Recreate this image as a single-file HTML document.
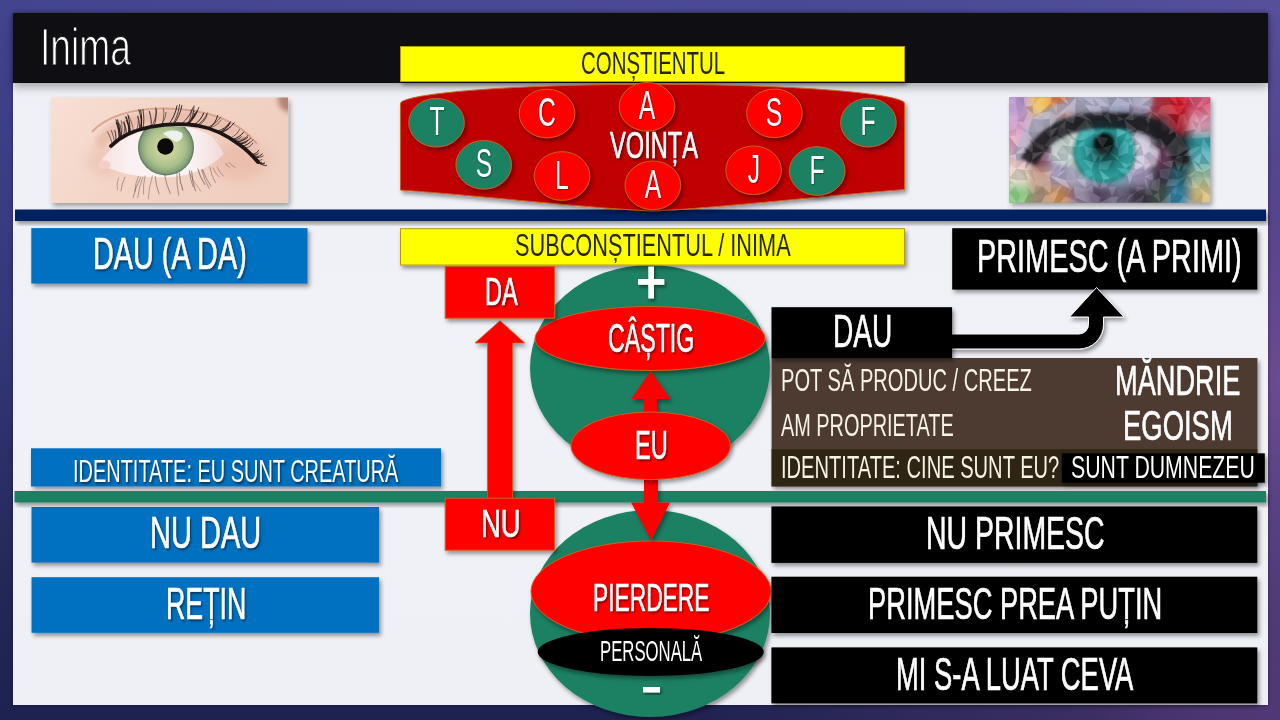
<!DOCTYPE html><html><head><meta charset="utf-8"><style>
html,body{margin:0;padding:0;}
body{width:1280px;height:720px;overflow:hidden;position:relative;font-family:'Liberation Sans',sans-serif;
background:
 radial-gradient(ellipse 300px 420px at 1280px 380px, rgba(110,76,148,0.95), rgba(110,76,148,0) 100%),
 radial-gradient(ellipse 600px 260px at 1280px 720px, rgba(78,54,114,0.9), rgba(78,54,114,0) 100%),
 radial-gradient(ellipse 500px 200px at 1280px 0px, rgba(86,82,158,0.9), rgba(86,82,158,0) 100%),
 radial-gradient(ellipse 700px 120px at 640px 0px, rgba(80,76,150,0.7), rgba(80,76,150,0) 100%),
 linear-gradient(180deg, #42448e 0%, #33387a 45%, #242858 80%, #1e2250 100%);}
.t{position:absolute;white-space:nowrap;transform-origin:0 0;}
.b{position:absolute;}
</style></head><body>
<div class="b" style="left:13px;top:13px;width:1255px;height:692px;background:linear-gradient(180deg,#eef0f6 0%,#f0f2f8 50%,#eef0f6 100%);box-shadow:0 0 4px rgba(0,0,0,0.4);"></div>
<div class="b" style="left:13px;top:13px;width:1255px;height:69.5px;background:#0f0e12;box-shadow:0 4px 9px rgba(0,0,0,0.32);"></div>
<svg style="position:absolute;left:0;top:0" width="1280" height="720" viewBox="0 0 1280 720">
<defs>
<filter id="eds" x="-10%" y="-10%" width="125%" height="130%"><feDropShadow dx="2" dy="3" stdDeviation="2.5" flood-color="#000" flood-opacity="0.35"/></filter>
<linearGradient id="skin" x1="0" y1="0" x2="1" y2="0.3">
<stop offset="0" stop-color="#f7e0d4"/><stop offset="0.5" stop-color="#f3d4c5"/><stop offset="1" stop-color="#f0cfc0"/></linearGradient>
<radialGradient id="iris" cx="0.5" cy="0.5" r="0.5"><stop offset="0" stop-color="#c8c884"/><stop offset="0.35" stop-color="#c6d09a"/><stop offset="0.7" stop-color="#a8bf8c"/><stop offset="0.9" stop-color="#86a27a"/><stop offset="1" stop-color="#5c7658"/></radialGradient>
<linearGradient id="white" x1="0" y1="0" x2="1" y2="0"><stop offset="0" stop-color="#f4e0dc"/><stop offset="0.25" stop-color="#faf2f2"/><stop offset="0.75" stop-color="#faf2f3"/><stop offset="1" stop-color="#f2d8d6"/></linearGradient>
<clipPath id="almond"><path d="M99,164 C106,152 122,137 145,129.5 C165,124 195,125 210,135 C216,140 220,147 224,154 C212,166 195,175 172,177 C145,178.5 118,174 99,164 Z"/></clipPath>
<filter id="bl1" x="-50%" y="-50%" width="200%" height="200%"><feGaussianBlur stdDeviation="2.5"/></filter>
<filter id="bl4" x="-50%" y="-50%" width="200%" height="200%"><feGaussianBlur stdDeviation="6"/></filter>
<filter id="bl05" x="-10%" y="-10%" width="120%" height="120%"><feGaussianBlur stdDeviation="0.5"/></filter>
<clipPath id="photoL"><rect x="50.8" y="97.5" width="237.3" height="105.5"/></clipPath>
</defs>
<rect x="50.8" y="97.5" width="237.3" height="105.5" fill="url(#skin)" filter="url(#eds)"/>
<g clip-path="url(#photoL)">
<ellipse cx="290" cy="100" rx="12" ry="12" fill="#a87868" opacity="0.85" filter="url(#bl1)"/>
<path d="M95,140 C110,118 140,110 170,110 C205,110 235,120 255,145 C240,140 220,128 185,123 C150,120 120,128 100,150 Z" fill="#e6b3a2" opacity="0.7" filter="url(#bl1)"/>
<ellipse cx="240" cy="160" rx="28" ry="20" fill="#e4aa98" opacity="0.45" filter="url(#bl4)"/>
<ellipse cx="105" cy="160" rx="18" ry="16" fill="#e8b6a6" opacity="0.45" filter="url(#bl4)"/>
<path d="M92,132 C105,117 132,108 165,108.5 C205,109 238,120 257,144" fill="none" stroke="#cf907c" stroke-width="2" opacity="0.7" filter="url(#bl05)"/>
<path d="M99,164 C106,152 122,137 145,129.5 C165,124 195,125 210,135 C216,140 220,147 224,154 C212,166 195,175 172,177 C145,178.5 118,174 99,164 Z" fill="url(#white)"/>
<g clip-path="url(#almond)">
<circle cx="166" cy="147.5" r="28" fill="url(#iris)"/>
<circle cx="165.4" cy="146.5" r="8.2" fill="#0c0a0c"/>
<path d="M163,134 C166,130 176,129 182,133 C184,137 181,141 176,142 C172,139 168,137 163,134 Z" fill="#f2f6f6" opacity="0.9"/>
</g>
<path d="M97,159 C100,162 104,166 110,170 C106,172 100,170 97,166 Z" fill="#f0c4ba"/>
<ellipse cx="104" cy="165" rx="6.5" ry="4.5" fill="#f3cfc6"/>
<path d="M111,146 C120,137 135,130 150,127 C165,124 182,123.5 197,125.5 C212,128 228,136 240,145 C247,150 252,155 258,162" fill="none" stroke="#1e1212" stroke-width="3.8" stroke-linecap="round" filter="url(#bl05)"/>

<path d="M188.4,124.4 Q195.7,117.3 198.9,107.3" stroke="#241818" stroke-width="0.73" fill="none" stroke-linecap="round"/>
<path d="M198.4,125.7 Q204.8,121.7 207.2,114.6" stroke="#241818" stroke-width="0.76" fill="none" stroke-linecap="round"/>
<path d="M220.9,132.5 Q227.7,131.0 230.5,126.5" stroke="#241818" stroke-width="0.65" fill="none" stroke-linecap="round"/>
<path d="M121.3,136.4 Q123.2,130.0 121.1,120.6" stroke="#241818" stroke-width="0.52" fill="none" stroke-linecap="round"/>
<path d="M258.9,162.7 Q263.7,164.8 264.4,163.9" stroke="#241818" stroke-width="0.81" fill="none" stroke-linecap="round"/>
<path d="M133.3,130.8 Q133.0,124.6 128.6,115.5" stroke="#241818" stroke-width="0.53" fill="none" stroke-linecap="round"/>
<path d="M139.2,129.2 Q140.5,124.2 137.7,116.2" stroke="#241818" stroke-width="0.73" fill="none" stroke-linecap="round"/>
<path d="M186.3,124.1 Q193.7,118.8 197.1,110.6" stroke="#241818" stroke-width="0.82" fill="none" stroke-linecap="round"/>
<path d="M197.0,125.5 Q204.2,120.8 207.3,113.0" stroke="#241818" stroke-width="0.64" fill="none" stroke-linecap="round"/>
<path d="M259.9,163.8 Q265.2,166.2 266.5,165.6" stroke="#241818" stroke-width="0.85" fill="none" stroke-linecap="round"/>
<path d="M161.7,125.0 Q164.7,118.6 163.6,109.2" stroke="#241818" stroke-width="0.54" fill="none" stroke-linecap="round"/>
<path d="M241.6,146.2 Q249.2,144.6 252.8,140.0" stroke="#241818" stroke-width="0.69" fill="none" stroke-linecap="round"/>
<path d="M257.5,161.0 Q260.0,162.5 258.5,161.1" stroke="#241818" stroke-width="0.60" fill="none" stroke-linecap="round"/>
<path d="M254.5,157.5 Q260.9,158.1 263.2,155.8" stroke="#241818" stroke-width="0.70" fill="none" stroke-linecap="round"/>
<path d="M118.9,138.1 Q119.8,131.7 116.6,122.3" stroke="#241818" stroke-width="0.63" fill="none" stroke-linecap="round"/>
<path d="M120.7,136.7 Q120.3,129.7 116.0,119.7" stroke="#241818" stroke-width="0.88" fill="none" stroke-linecap="round"/>
<path d="M126.2,134.1 Q126.7,129.7 123.1,122.3" stroke="#241818" stroke-width="0.53" fill="none" stroke-linecap="round"/>
<path d="M244.5,148.4 Q250.7,147.3 252.8,143.2" stroke="#241818" stroke-width="0.72" fill="none" stroke-linecap="round"/>
<path d="M139.3,129.1 Q142.3,123.8 141.2,115.6" stroke="#241818" stroke-width="0.82" fill="none" stroke-linecap="round"/>
<path d="M126.0,134.2 Q126.9,129.3 123.8,121.4" stroke="#241818" stroke-width="0.63" fill="none" stroke-linecap="round"/>
<path d="M258.3,161.9 Q261.8,163.6 261.4,162.2" stroke="#241818" stroke-width="0.94" fill="none" stroke-linecap="round"/>
<path d="M142.9,128.4 Q144.9,120.4 142.9,109.4" stroke="#241818" stroke-width="0.82" fill="none" stroke-linecap="round"/>
<path d="M123.1,135.6 Q125.7,130.8 124.3,123.0" stroke="#241818" stroke-width="0.63" fill="none" stroke-linecap="round"/>
<path d="M242.2,146.6 Q248.0,145.9 249.7,142.3" stroke="#241818" stroke-width="0.54" fill="none" stroke-linecap="round"/>
<path d="M121.2,136.4 Q122.4,131.7 119.5,123.9" stroke="#241818" stroke-width="0.80" fill="none" stroke-linecap="round"/>
<path d="M172.8,124.0 Q178.3,115.8 179.7,104.5" stroke="#241818" stroke-width="0.74" fill="none" stroke-linecap="round"/>
<path d="M210.4,127.7 Q217.7,125.4 221.0,120.1" stroke="#241818" stroke-width="0.58" fill="none" stroke-linecap="round"/>
<path d="M254.3,157.3 Q258.2,158.8 258.2,157.3" stroke="#241818" stroke-width="0.59" fill="none" stroke-linecap="round"/>
<path d="M238.5,143.9 Q244.8,144.2 247.2,141.4" stroke="#241818" stroke-width="0.98" fill="none" stroke-linecap="round"/>
<path d="M252.1,155.1 Q257.1,156.1 258.0,154.1" stroke="#241818" stroke-width="0.55" fill="none" stroke-linecap="round"/>
<path d="M115.2,141.8 Q117.0,137.6 114.8,130.5" stroke="#241818" stroke-width="0.85" fill="none" stroke-linecap="round"/>
<path d="M151.3,126.8 Q156.0,119.8 156.7,109.9" stroke="#241818" stroke-width="0.65" fill="none" stroke-linecap="round"/>
<path d="M136.6,129.7 Q139.2,124.7 137.9,116.7" stroke="#241818" stroke-width="0.61" fill="none" stroke-linecap="round"/>
<path d="M207.7,127.3 Q216.1,123.8 220.6,117.2" stroke="#241818" stroke-width="0.64" fill="none" stroke-linecap="round"/>
<path d="M255.0,158.0 Q258.0,159.3 256.9,157.5" stroke="#241818" stroke-width="0.63" fill="none" stroke-linecap="round"/>
<path d="M187.2,124.2 Q191.3,118.6 191.3,109.9" stroke="#241818" stroke-width="0.68" fill="none" stroke-linecap="round"/>
<path d="M210.0,127.7 Q215.8,123.1 217.6,115.5" stroke="#241818" stroke-width="0.95" fill="none" stroke-linecap="round"/>
<path d="M258.8,162.6 Q263.7,164.2 264.7,162.9" stroke="#241818" stroke-width="0.79" fill="none" stroke-linecap="round"/>
<path d="M130.3,132.2 Q130.3,128.0 126.4,120.7" stroke="#241818" stroke-width="0.96" fill="none" stroke-linecap="round"/>
<path d="M232.9,139.7 Q239.2,139.8 241.4,136.8" stroke="#241818" stroke-width="0.82" fill="none" stroke-linecap="round"/>
<path d="M193.8,125.1 Q200.8,120.6 203.7,113.2" stroke="#241818" stroke-width="1.00" fill="none" stroke-linecap="round"/>
<path d="M119.1,137.9 Q119.7,131.6 116.3,122.4" stroke="#241818" stroke-width="0.95" fill="none" stroke-linecap="round"/>
<path d="M238.1,143.6 Q246.3,142.5 250.4,138.5" stroke="#241818" stroke-width="0.96" fill="none" stroke-linecap="round"/>
<path d="M168.8,124.3 Q174.9,116.5 177.1,105.8" stroke="#241818" stroke-width="0.94" fill="none" stroke-linecap="round"/>
<path d="M182.1,123.5 Q189.7,116.8 193.4,107.2" stroke="#241818" stroke-width="0.79" fill="none" stroke-linecap="round"/>
<path d="M220.0,132.0 Q227.2,128.3 230.5,121.6" stroke="#241818" stroke-width="0.80" fill="none" stroke-linecap="round"/>
<path d="M119.7,137.3 Q120.6,130.1 117.5,119.8" stroke="#241818" stroke-width="0.94" fill="none" stroke-linecap="round"/>
<path d="M236.9,142.6 Q244.4,140.5 247.9,135.4" stroke="#241818" stroke-width="0.79" fill="none" stroke-linecap="round"/>
<path d="M186.3,124.1 Q192.7,120.0 195.2,113.0" stroke="#241818" stroke-width="0.88" fill="none" stroke-linecap="round"/>
<path d="M114.2,142.8 Q114.7,138.1 111.2,130.3" stroke="#241818" stroke-width="0.62" fill="none" stroke-linecap="round"/>
<path d="M232.6,139.4 Q240.1,137.3 243.6,132.2" stroke="#241818" stroke-width="0.96" fill="none" stroke-linecap="round"/>
<path d="M151.0,126.8 Q152.2,120.5 149.3,111.3" stroke="#241818" stroke-width="0.84" fill="none" stroke-linecap="round"/>
<path d="M141.5,128.7 Q142.2,120.6 138.9,109.6" stroke="#241818" stroke-width="0.83" fill="none" stroke-linecap="round"/>
<path d="M186.5,124.1 Q193.7,119.5 196.9,112.0" stroke="#241818" stroke-width="0.83" fill="none" stroke-linecap="round"/>
<path d="M140.7,128.9 Q142.7,121.1 140.7,110.3" stroke="#241818" stroke-width="0.96" fill="none" stroke-linecap="round"/>
<path d="M251.9,154.9 Q257.4,155.4 258.8,152.9" stroke="#241818" stroke-width="0.66" fill="none" stroke-linecap="round"/>
<path d="M129.5,132.6 Q130.7,125.2 127.9,114.9" stroke="#241818" stroke-width="0.92" fill="none" stroke-linecap="round"/>
<path d="M234.4,140.8 Q241.4,140.7 244.3,137.5" stroke="#241818" stroke-width="0.58" fill="none" stroke-linecap="round"/>
<path d="M188.1,124.3 Q193.0,118.9 194.0,110.4" stroke="#241818" stroke-width="0.71" fill="none" stroke-linecap="round"/>
<path d="M220.1,132.1 Q227.0,129.3 229.8,123.5" stroke="#241818" stroke-width="0.92" fill="none" stroke-linecap="round"/>
<path d="M258.9,162.7 Q261.7,164.2 260.4,162.6" stroke="#241818" stroke-width="0.52" fill="none" stroke-linecap="round"/>
<path d="M251.3,154.3 Q257.0,153.9 258.7,150.4" stroke="#241818" stroke-width="0.79" fill="none" stroke-linecap="round"/>
<path d="M160.6,125.2 Q165.3,120.3 166.1,112.3" stroke="#241818" stroke-width="0.57" fill="none" stroke-linecap="round"/>
<path d="M188.9,124.4 Q193.5,116.6 194.1,105.8" stroke="#241818" stroke-width="0.62" fill="none" stroke-linecap="round"/>
<path d="M130.4,132.2 Q129.8,125.9 125.3,116.6" stroke="#241818" stroke-width="0.72" fill="none" stroke-linecap="round"/>
<path d="M221.0,132.5 Q229.5,129.2 234.1,122.9" stroke="#241818" stroke-width="0.98" fill="none" stroke-linecap="round"/>
<path d="M230.6,137.9 Q237.1,135.1 239.6,129.2" stroke="#241818" stroke-width="0.59" fill="none" stroke-linecap="round"/>
<path d="M112.2,144.8 Q111.8,139.8 107.5,131.7" stroke="#241818" stroke-width="0.59" fill="none" stroke-linecap="round"/>
<path d="M154.0,126.3 Q156.9,118.6 155.8,107.8" stroke="#241818" stroke-width="0.76" fill="none" stroke-linecap="round"/>
<path d="M218.0,131.0 Q225.6,128.6 229.2,123.2" stroke="#241818" stroke-width="0.90" fill="none" stroke-linecap="round"/>
<path d="M254.1,157.1 Q260.2,156.9 262.2,153.8" stroke="#241818" stroke-width="0.86" fill="none" stroke-linecap="round"/>
<path d="M128.4,133.1 Q129.4,126.6 126.4,117.1" stroke="#241818" stroke-width="0.95" fill="none" stroke-linecap="round"/>
<path d="M173.9,124.0 Q179.9,116.2 181.9,105.5" stroke="#241818" stroke-width="0.90" fill="none" stroke-linecap="round"/>
<path d="M256.7,160.0 Q261.4,161.1 262.2,159.3" stroke="#241818" stroke-width="0.60" fill="none" stroke-linecap="round"/>
<path d="M236.0,142.0 Q243.9,141.2 247.8,137.4" stroke="#241818" stroke-width="0.86" fill="none" stroke-linecap="round"/>
<path d="M140.6,177.6 Q135.4,187.5 133.1,197.4" stroke="#3a2828" stroke-width="0.61" opacity="0.7" fill="none" stroke-linecap="round"/>
<path d="M209.9,167.1 Q211.1,174.9 215.3,182.6" stroke="#3a2828" stroke-width="0.54" opacity="0.7" fill="none" stroke-linecap="round"/>
<path d="M124.9,177.3 Q121.5,184.0 121.0,190.8" stroke="#3a2828" stroke-width="0.59" opacity="0.7" fill="none" stroke-linecap="round"/>
<path d="M118.4,178.1 Q116.4,184.0 117.4,189.8" stroke="#3a2828" stroke-width="0.47" opacity="0.7" fill="none" stroke-linecap="round"/>
<path d="M155.2,176.3 Q155.7,185.1 159.1,193.9" stroke="#3a2828" stroke-width="0.61" opacity="0.7" fill="none" stroke-linecap="round"/>
<path d="M201.8,169.8 Q204.0,179.1 209.1,188.4" stroke="#3a2828" stroke-width="0.60" opacity="0.7" fill="none" stroke-linecap="round"/>
<path d="M228.9,162.3 Q230.5,164.9 235.2,167.5" stroke="#3a2828" stroke-width="0.52" opacity="0.7" fill="none" stroke-linecap="round"/>
<path d="M202.5,169.3 Q205.2,177.7 211.0,186.2" stroke="#3a2828" stroke-width="0.62" opacity="0.7" fill="none" stroke-linecap="round"/>
<path d="M152.4,175.7 Q148.8,187.3 148.3,198.9" stroke="#3a2828" stroke-width="0.48" opacity="0.7" fill="none" stroke-linecap="round"/>
<path d="M217.1,166.9 Q218.8,171.5 223.6,176.2" stroke="#3a2828" stroke-width="0.48" opacity="0.7" fill="none" stroke-linecap="round"/>
<path d="M179.3,172.9 Q179.6,181.6 182.9,190.2" stroke="#3a2828" stroke-width="0.79" opacity="0.7" fill="none" stroke-linecap="round"/>
<path d="M176.9,173.0 Q176.3,184.1 178.7,195.2" stroke="#3a2828" stroke-width="0.60" opacity="0.7" fill="none" stroke-linecap="round"/>
<path d="M197.9,169.0 Q199.8,176.7 204.7,184.5" stroke="#3a2828" stroke-width="0.78" opacity="0.7" fill="none" stroke-linecap="round"/>
<path d="M225.8,163.4 Q225.9,165.3 229.1,167.2" stroke="#3a2828" stroke-width="0.57" opacity="0.7" fill="none" stroke-linecap="round"/>
<path d="M212.9,167.7 Q214.4,172.2 219.0,176.8" stroke="#3a2828" stroke-width="0.48" opacity="0.7" fill="none" stroke-linecap="round"/>
<path d="M189.1,172.2 Q193.4,181.7 200.6,191.1" stroke="#3a2828" stroke-width="0.41" opacity="0.7" fill="none" stroke-linecap="round"/>
<path d="M138.3,176.4 Q135.1,183.8 134.9,191.2" stroke="#3a2828" stroke-width="0.54" opacity="0.7" fill="none" stroke-linecap="round"/>
<path d="M189.4,170.6 Q189.8,178.7 193.2,186.9" stroke="#3a2828" stroke-width="0.60" opacity="0.7" fill="none" stroke-linecap="round"/>
<path d="M145.1,175.9 Q142.8,184.9 143.6,194.0" stroke="#3a2828" stroke-width="0.55" opacity="0.7" fill="none" stroke-linecap="round"/>
<path d="M164.6,174.8 Q166.0,184.1 170.3,193.5" stroke="#3a2828" stroke-width="0.65" opacity="0.7" fill="none" stroke-linecap="round"/>
<path d="M191.6,171.0 Q192.0,180.9 195.4,190.8" stroke="#3a2828" stroke-width="0.74" opacity="0.7" fill="none" stroke-linecap="round"/>
<path d="M142.9,177.1 Q138.8,187.4 137.7,197.8" stroke="#3a2828" stroke-width="0.53" opacity="0.7" fill="none" stroke-linecap="round"/>
</g></svg>
<svg style="position:absolute;left:0;top:0" width="1280" height="720" viewBox="0 0 1280 720">
<defs>
<filter id="eds2" x="-10%" y="-10%" width="125%" height="130%"><feDropShadow dx="2" dy="3" stdDeviation="2.5" flood-color="#000" flood-opacity="0.35"/></filter>
<clipPath id="photoR"><rect x="1009.3" y="97.2" width="201.0" height="105.60000000000001"/></clipPath>
<filter id="bl2" x="-20%" y="-20%" width="140%" height="140%"><feGaussianBlur stdDeviation="4.5"/></filter>
<filter id="bl3" x="-20%" y="-20%" width="140%" height="140%"><feGaussianBlur stdDeviation="1.8"/></filter>
<radialGradient id="irisR" cx="0.5" cy="0.5" r="0.5"><stop offset="0" stop-color="#0e2e30"/><stop offset="0.3" stop-color="#186060"/><stop offset="0.6" stop-color="#2a9a9c"/><stop offset="0.85" stop-color="#38b4b0"/><stop offset="1" stop-color="#2a8a88"/></radialGradient>
</defs>
<rect x="1009.3" y="97.2" width="201.0" height="105.60000000000001" fill="#908898" filter="url(#eds2)"/>
<g clip-path="url(#photoR)">
<g filter="url(#bl2)"><rect x="1001.3" y="89.2" width="28.6" height="26.1" fill="#b898d0"/><rect x="1029.4" y="89.2" width="20.6" height="26.1" fill="#eec050"/><rect x="1049.5" y="89.2" width="20.6" height="26.1" fill="#e08050"/><rect x="1069.6" y="89.2" width="20.6" height="26.1" fill="#b0a8c0"/><rect x="1089.7" y="89.2" width="20.6" height="26.1" fill="#a8a8c4"/><rect x="1109.8" y="89.2" width="20.6" height="26.1" fill="#9098b8"/><rect x="1129.9" y="89.2" width="20.6" height="26.1" fill="#8a80a0"/><rect x="1150.0" y="89.2" width="20.6" height="26.1" fill="#b83040"/><rect x="1170.1" y="89.2" width="20.6" height="26.1" fill="#d01828"/><rect x="1190.2" y="89.2" width="28.6" height="26.1" fill="#e06080"/><rect x="1001.3" y="114.8" width="28.6" height="18.1" fill="#d0a0cc"/><rect x="1029.4" y="114.8" width="20.6" height="18.1" fill="#c0b4c0"/><rect x="1049.5" y="114.8" width="20.6" height="18.1" fill="#808088"/><rect x="1069.6" y="114.8" width="20.6" height="18.1" fill="#383840"/><rect x="1089.7" y="114.8" width="20.6" height="18.1" fill="#283034"/><rect x="1109.8" y="114.8" width="20.6" height="18.1" fill="#383c44"/><rect x="1129.9" y="114.8" width="20.6" height="18.1" fill="#484850"/><rect x="1150.0" y="114.8" width="20.6" height="18.1" fill="#482830"/><rect x="1170.1" y="114.8" width="20.6" height="18.1" fill="#a81828"/><rect x="1190.2" y="114.8" width="28.6" height="18.1" fill="#e0a0b8"/><rect x="1001.3" y="132.4" width="28.6" height="18.1" fill="#eaa8c4"/><rect x="1029.4" y="132.4" width="20.6" height="18.1" fill="#907078"/><rect x="1049.5" y="132.4" width="20.6" height="18.1" fill="#504050"/><rect x="1069.6" y="132.4" width="20.6" height="18.1" fill="#c8d4d0"/><rect x="1089.7" y="132.4" width="20.6" height="18.1" fill="#1c5050"/><rect x="1109.8" y="132.4" width="20.6" height="18.1" fill="#206060"/><rect x="1129.9" y="132.4" width="20.6" height="18.1" fill="#b8b8c8"/><rect x="1150.0" y="132.4" width="20.6" height="18.1" fill="#302830"/><rect x="1170.1" y="132.4" width="20.6" height="18.1" fill="#202428"/><rect x="1190.2" y="132.4" width="28.6" height="18.1" fill="#30a0a8"/><rect x="1001.3" y="150.0" width="28.6" height="18.1" fill="#eec4cc"/><rect x="1029.4" y="150.0" width="20.6" height="18.1" fill="#7a4a58"/><rect x="1049.5" y="150.0" width="20.6" height="18.1" fill="#a898c0"/><rect x="1069.6" y="150.0" width="20.6" height="18.1" fill="#c0d8d0"/><rect x="1089.7" y="150.0" width="20.6" height="18.1" fill="#30a8a8"/><rect x="1109.8" y="150.0" width="20.6" height="18.1" fill="#30b0b0"/><rect x="1129.9" y="150.0" width="20.6" height="18.1" fill="#d0c8e0"/><rect x="1150.0" y="150.0" width="20.6" height="18.1" fill="#704060"/><rect x="1170.1" y="150.0" width="20.6" height="18.1" fill="#183838"/><rect x="1190.2" y="150.0" width="28.6" height="18.1" fill="#60b8c0"/><rect x="1001.3" y="167.6" width="28.6" height="18.1" fill="#e4dcc8"/><rect x="1029.4" y="167.6" width="20.6" height="18.1" fill="#c89888"/><rect x="1049.5" y="167.6" width="20.6" height="18.1" fill="#b0a8c8"/><rect x="1069.6" y="167.6" width="20.6" height="18.1" fill="#b4b4cc"/><rect x="1089.7" y="167.6" width="20.6" height="18.1" fill="#a8a8c8"/><rect x="1109.8" y="167.6" width="20.6" height="18.1" fill="#80a8c0"/><rect x="1129.9" y="167.6" width="20.6" height="18.1" fill="#a898c0"/><rect x="1150.0" y="167.6" width="20.6" height="18.1" fill="#403848"/><rect x="1170.1" y="167.6" width="20.6" height="18.1" fill="#205868"/><rect x="1190.2" y="167.6" width="28.6" height="18.1" fill="#a0c0a0"/><rect x="1001.3" y="185.2" width="28.6" height="26.1" fill="#88c880"/><rect x="1029.4" y="185.2" width="20.6" height="26.1" fill="#b09880"/><rect x="1049.5" y="185.2" width="20.6" height="26.1" fill="#d09058"/><rect x="1069.6" y="185.2" width="20.6" height="26.1" fill="#8a7c98"/><rect x="1089.7" y="185.2" width="20.6" height="26.1" fill="#584868"/><rect x="1109.8" y="185.2" width="20.6" height="26.1" fill="#706880"/><rect x="1129.9" y="185.2" width="20.6" height="26.1" fill="#403848"/><rect x="1150.0" y="185.2" width="20.6" height="26.1" fill="#405048"/><rect x="1170.1" y="185.2" width="20.6" height="26.1" fill="#3088a8"/><rect x="1190.2" y="185.2" width="28.6" height="26.1" fill="#d8c080"/></g>
<g filter="url(#bl3)">
<path d="M1017,160 C1027,130 1048,110 1078,103 C1105,98 1130,99 1152,103" fill="none" stroke="#b0b0c8" stroke-width="13" opacity="0.8"/>
<path d="M1052,140 C1060,136 1070,134 1078,134 L1078,168 C1068,168 1058,165 1050,160 Z" fill="#ccdcd6" opacity="0.8"/>
<path d="M1132,136 C1142,137 1152,142 1160,150 L1156,166 C1148,168 1140,169 1132,170 Z" fill="#d4cce2" opacity="0.8"/>
<circle cx="1104.5" cy="151.5" r="32" fill="url(#irisR)"/>
<circle cx="1104" cy="143" r="11" fill="#0c1212"/>
<path d="M1028,162 C1038,141 1058,128 1080,123 C1105,118 1140,120 1162,132 C1174,140 1180,150 1182,165" fill="none" stroke="#1c1c24" stroke-width="17" opacity="0.88"/>
</g>
<polygon points="1009.3,97.2 1016.6,97.2 1015.6,103.1" fill="#ffffff" opacity="0.05"/><polygon points="1009.3,97.2 1015.6,103.1 1009.3,104.1" fill="#ffffff" opacity="0.16"/><polygon points="1016.6,97.2 1024.0,97.2 1024.9,107.1" fill="#000000" opacity="0.12"/><polygon points="1016.6,97.2 1024.9,107.1 1015.6,103.1" fill="#000000" opacity="0.07"/><polygon points="1024.0,97.2 1035.3,97.2 1032.6,105.8" fill="#ffffff" opacity="0.09"/><polygon points="1024.0,97.2 1032.6,105.8 1024.9,107.1" fill="#ffffff" opacity="0.15"/><polygon points="1035.3,97.2 1040.3,97.2 1032.6,105.8" fill="#000000" opacity="0.04"/><polygon points="1040.3,97.2 1043.6,104.6 1032.6,105.8" fill="#ffffff" opacity="0.13"/><polygon points="1040.3,97.2 1051.4,97.2 1043.6,104.6" fill="#ffffff" opacity="0.11"/><polygon points="1051.4,97.2 1051.5,102.8 1043.6,104.6" fill="#ffffff" opacity="0.09"/><polygon points="1051.4,97.2 1058.8,97.2 1051.5,102.8" fill="#000000" opacity="0.14"/><polygon points="1058.8,97.2 1057.0,103.7 1051.5,102.8" fill="#000000" opacity="0.07"/><polygon points="1058.8,97.2 1065.3,97.2 1069.0,104.9" fill="#ffffff" opacity="0.10"/><polygon points="1058.8,97.2 1069.0,104.9 1057.0,103.7" fill="#000000" opacity="0.15"/><polygon points="1065.3,97.2 1076.3,97.2 1069.0,104.9" fill="#000000" opacity="0.13"/><polygon points="1076.3,97.2 1075.2,105.8 1069.0,104.9" fill="#ffffff" opacity="0.11"/><polygon points="1076.3,97.2 1082.0,97.2 1084.4,104.2" fill="#000000" opacity="0.07"/><polygon points="1076.3,97.2 1084.4,104.2 1075.2,105.8" fill="#000000" opacity="0.12"/><polygon points="1082.0,97.2 1092.7,97.2 1094.8,106.5" fill="#ffffff" opacity="0.07"/><polygon points="1082.0,97.2 1094.8,106.5 1084.4,104.2" fill="#000000" opacity="0.12"/><polygon points="1092.7,97.2 1098.9,97.2 1099.9,105.7" fill="#ffffff" opacity="0.10"/><polygon points="1092.7,97.2 1099.9,105.7 1094.8,106.5" fill="#000000" opacity="0.09"/><polygon points="1098.9,97.2 1107.4,97.2 1109.9,107.5" fill="#000000" opacity="0.04"/><polygon points="1098.9,97.2 1109.9,107.5 1099.9,105.7" fill="#ffffff" opacity="0.10"/><polygon points="1107.4,97.2 1117.7,97.2 1109.9,107.5" fill="#000000" opacity="0.15"/><polygon points="1117.7,97.2 1119.5,104.1 1109.9,107.5" fill="#ffffff" opacity="0.07"/><polygon points="1117.7,97.2 1128.5,97.2 1129.4,103.2" fill="#000000" opacity="0.12"/><polygon points="1117.7,97.2 1129.4,103.2 1119.5,104.1" fill="#ffffff" opacity="0.04"/><polygon points="1128.5,97.2 1132.7,97.2 1134.4,106.8" fill="#000000" opacity="0.09"/><polygon points="1128.5,97.2 1134.4,106.8 1129.4,103.2" fill="#ffffff" opacity="0.12"/><polygon points="1132.7,97.2 1141.7,97.2 1134.4,106.8" fill="#ffffff" opacity="0.04"/><polygon points="1141.7,97.2 1141.3,105.3 1134.4,106.8" fill="#ffffff" opacity="0.09"/><polygon points="1141.7,97.2 1152.4,97.2 1141.3,105.3" fill="#ffffff" opacity="0.14"/><polygon points="1152.4,97.2 1149.0,106.3 1141.3,105.3" fill="#000000" opacity="0.10"/><polygon points="1152.4,97.2 1162.7,97.2 1161.6,105.7" fill="#000000" opacity="0.08"/><polygon points="1152.4,97.2 1161.6,105.7 1149.0,106.3" fill="#000000" opacity="0.07"/><polygon points="1162.7,97.2 1168.9,97.2 1170.6,104.3" fill="#000000" opacity="0.08"/><polygon points="1162.7,97.2 1170.6,104.3 1161.6,105.7" fill="#000000" opacity="0.10"/><polygon points="1168.9,97.2 1176.2,97.2 1177.9,105.9" fill="#ffffff" opacity="0.09"/><polygon points="1168.9,97.2 1177.9,105.9 1170.6,104.3" fill="#000000" opacity="0.15"/><polygon points="1176.2,97.2 1188.0,97.2 1185.6,105.1" fill="#ffffff" opacity="0.07"/><polygon points="1176.2,97.2 1185.6,105.1 1177.9,105.9" fill="#000000" opacity="0.06"/><polygon points="1188.0,97.2 1190.9,97.2 1195.5,107.9" fill="#ffffff" opacity="0.09"/><polygon points="1188.0,97.2 1195.5,107.9 1185.6,105.1" fill="#000000" opacity="0.15"/><polygon points="1190.9,97.2 1204.0,97.2 1195.5,107.9" fill="#000000" opacity="0.15"/><polygon points="1204.0,97.2 1201.8,106.3 1195.5,107.9" fill="#ffffff" opacity="0.06"/><polygon points="1204.0,97.2 1210.3,97.2 1201.8,106.3" fill="#000000" opacity="0.04"/><polygon points="1210.3,97.2 1210.3,102.8 1201.8,106.3" fill="#000000" opacity="0.09"/><polygon points="1009.3,104.1 1015.6,103.1 1018.5,116.2" fill="#ffffff" opacity="0.06"/><polygon points="1009.3,104.1 1018.5,116.2 1009.3,114.6" fill="#ffffff" opacity="0.07"/><polygon points="1015.6,103.1 1024.9,107.1 1027.9,112.2" fill="#000000" opacity="0.05"/><polygon points="1015.6,103.1 1027.9,112.2 1018.5,116.2" fill="#000000" opacity="0.06"/><polygon points="1024.9,107.1 1032.6,105.8 1033.8,114.4" fill="#000000" opacity="0.14"/><polygon points="1024.9,107.1 1033.8,114.4 1027.9,112.2" fill="#ffffff" opacity="0.05"/><polygon points="1032.6,105.8 1043.6,104.6 1040.0,113.2" fill="#ffffff" opacity="0.15"/><polygon points="1032.6,105.8 1040.0,113.2 1033.8,114.4" fill="#ffffff" opacity="0.08"/><polygon points="1043.6,104.6 1051.5,102.8 1040.0,113.2" fill="#ffffff" opacity="0.09"/><polygon points="1051.5,102.8 1049.2,111.3 1040.0,113.2" fill="#000000" opacity="0.13"/><polygon points="1051.5,102.8 1057.0,103.7 1057.0,115.0" fill="#ffffff" opacity="0.05"/><polygon points="1051.5,102.8 1057.0,115.0 1049.2,111.3" fill="#000000" opacity="0.07"/><polygon points="1057.0,103.7 1069.0,104.9 1057.0,115.0" fill="#000000" opacity="0.08"/><polygon points="1069.0,104.9 1065.8,112.0 1057.0,115.0" fill="#ffffff" opacity="0.15"/><polygon points="1069.0,104.9 1075.2,105.8 1065.8,112.0" fill="#ffffff" opacity="0.13"/><polygon points="1075.2,105.8 1075.7,115.6 1065.8,112.0" fill="#ffffff" opacity="0.07"/><polygon points="1075.2,105.8 1084.4,104.2 1082.2,113.2" fill="#000000" opacity="0.15"/><polygon points="1075.2,105.8 1082.2,113.2 1075.7,115.6" fill="#000000" opacity="0.15"/><polygon points="1084.4,104.2 1094.8,106.5 1093.3,115.6" fill="#ffffff" opacity="0.10"/><polygon points="1084.4,104.2 1093.3,115.6 1082.2,113.2" fill="#000000" opacity="0.15"/><polygon points="1094.8,106.5 1099.9,105.7 1103.3,115.5" fill="#ffffff" opacity="0.09"/><polygon points="1094.8,106.5 1103.3,115.5 1093.3,115.6" fill="#ffffff" opacity="0.15"/><polygon points="1099.9,105.7 1109.9,107.5 1108.5,113.0" fill="#000000" opacity="0.13"/><polygon points="1099.9,105.7 1108.5,113.0 1103.3,115.5" fill="#000000" opacity="0.13"/><polygon points="1109.9,107.5 1119.5,104.1 1108.5,113.0" fill="#ffffff" opacity="0.08"/><polygon points="1119.5,104.1 1117.3,115.6 1108.5,113.0" fill="#ffffff" opacity="0.13"/><polygon points="1119.5,104.1 1129.4,103.2 1129.2,111.5" fill="#ffffff" opacity="0.13"/><polygon points="1119.5,104.1 1129.2,111.5 1117.3,115.6" fill="#ffffff" opacity="0.05"/><polygon points="1129.4,103.2 1134.4,106.8 1133.0,111.9" fill="#000000" opacity="0.08"/><polygon points="1129.4,103.2 1133.0,111.9 1129.2,111.5" fill="#000000" opacity="0.15"/><polygon points="1134.4,106.8 1141.3,105.3 1133.0,111.9" fill="#ffffff" opacity="0.05"/><polygon points="1141.3,105.3 1141.7,113.4 1133.0,111.9" fill="#ffffff" opacity="0.10"/><polygon points="1141.3,105.3 1149.0,106.3 1141.7,113.4" fill="#ffffff" opacity="0.07"/><polygon points="1149.0,106.3 1152.2,112.1 1141.7,113.4" fill="#ffffff" opacity="0.11"/><polygon points="1149.0,106.3 1161.6,105.7 1152.2,112.1" fill="#000000" opacity="0.14"/><polygon points="1161.6,105.7 1157.1,113.0 1152.2,112.1" fill="#000000" opacity="0.05"/><polygon points="1161.6,105.7 1170.6,104.3 1157.1,113.0" fill="#ffffff" opacity="0.11"/><polygon points="1170.6,104.3 1167.7,113.8 1157.1,113.0" fill="#ffffff" opacity="0.13"/><polygon points="1170.6,104.3 1177.9,105.9 1179.5,114.5" fill="#ffffff" opacity="0.07"/><polygon points="1170.6,104.3 1179.5,114.5 1167.7,113.8" fill="#ffffff" opacity="0.15"/><polygon points="1177.9,105.9 1185.6,105.1 1179.5,114.5" fill="#ffffff" opacity="0.09"/><polygon points="1185.6,105.1 1185.3,114.1 1179.5,114.5" fill="#000000" opacity="0.10"/><polygon points="1185.6,105.1 1195.5,107.9 1194.6,110.9" fill="#000000" opacity="0.12"/><polygon points="1185.6,105.1 1194.6,110.9 1185.3,114.1" fill="#000000" opacity="0.05"/><polygon points="1195.5,107.9 1201.8,106.3 1204.3,115.0" fill="#000000" opacity="0.14"/><polygon points="1195.5,107.9 1204.3,115.0 1194.6,110.9" fill="#000000" opacity="0.04"/><polygon points="1201.8,106.3 1210.3,102.8 1210.3,115.6" fill="#ffffff" opacity="0.06"/><polygon points="1201.8,106.3 1210.3,115.6 1204.3,115.0" fill="#000000" opacity="0.11"/><polygon points="1009.3,114.6 1018.5,116.2 1009.3,123.3" fill="#ffffff" opacity="0.14"/><polygon points="1018.5,116.2 1017.0,121.0 1009.3,123.3" fill="#ffffff" opacity="0.07"/><polygon points="1018.5,116.2 1027.9,112.2 1017.0,121.0" fill="#000000" opacity="0.05"/><polygon points="1027.9,112.2 1023.7,122.3 1017.0,121.0" fill="#000000" opacity="0.11"/><polygon points="1027.9,112.2 1033.8,114.4 1031.9,119.1" fill="#ffffff" opacity="0.06"/><polygon points="1027.9,112.2 1031.9,119.1 1023.7,122.3" fill="#ffffff" opacity="0.07"/><polygon points="1033.8,114.4 1040.0,113.2 1031.9,119.1" fill="#000000" opacity="0.06"/><polygon points="1040.0,113.2 1041.1,119.6 1031.9,119.1" fill="#ffffff" opacity="0.08"/><polygon points="1040.0,113.2 1049.2,111.3 1041.1,119.6" fill="#ffffff" opacity="0.08"/><polygon points="1049.2,111.3 1050.2,119.0 1041.1,119.6" fill="#ffffff" opacity="0.14"/><polygon points="1049.2,111.3 1057.0,115.0 1050.2,119.0" fill="#ffffff" opacity="0.05"/><polygon points="1057.0,115.0 1056.6,119.6 1050.2,119.0" fill="#ffffff" opacity="0.11"/><polygon points="1057.0,115.0 1065.8,112.0 1056.6,119.6" fill="#ffffff" opacity="0.06"/><polygon points="1065.8,112.0 1065.6,120.8 1056.6,119.6" fill="#000000" opacity="0.09"/><polygon points="1065.8,112.0 1075.7,115.6 1073.5,123.7" fill="#ffffff" opacity="0.15"/><polygon points="1065.8,112.0 1073.5,123.7 1065.6,120.8" fill="#ffffff" opacity="0.11"/><polygon points="1075.7,115.6 1082.2,113.2 1085.3,119.6" fill="#ffffff" opacity="0.14"/><polygon points="1075.7,115.6 1085.3,119.6 1073.5,123.7" fill="#000000" opacity="0.08"/><polygon points="1082.2,113.2 1093.3,115.6 1091.6,120.7" fill="#000000" opacity="0.06"/><polygon points="1082.2,113.2 1091.6,120.7 1085.3,119.6" fill="#ffffff" opacity="0.15"/><polygon points="1093.3,115.6 1103.3,115.5 1100.6,119.4" fill="#000000" opacity="0.09"/><polygon points="1093.3,115.6 1100.6,119.4 1091.6,120.7" fill="#000000" opacity="0.10"/><polygon points="1103.3,115.5 1108.5,113.0 1111.8,124.4" fill="#ffffff" opacity="0.11"/><polygon points="1103.3,115.5 1111.8,124.4 1100.6,119.4" fill="#000000" opacity="0.15"/><polygon points="1108.5,113.0 1117.3,115.6 1118.0,121.5" fill="#000000" opacity="0.08"/><polygon points="1108.5,113.0 1118.0,121.5 1111.8,124.4" fill="#000000" opacity="0.06"/><polygon points="1117.3,115.6 1129.2,111.5 1124.1,119.3" fill="#000000" opacity="0.15"/><polygon points="1117.3,115.6 1124.1,119.3 1118.0,121.5" fill="#ffffff" opacity="0.10"/><polygon points="1129.2,111.5 1133.0,111.9 1124.1,119.3" fill="#000000" opacity="0.06"/><polygon points="1133.0,111.9 1134.0,120.2 1124.1,119.3" fill="#ffffff" opacity="0.15"/><polygon points="1133.0,111.9 1141.7,113.4 1134.0,120.2" fill="#ffffff" opacity="0.05"/><polygon points="1141.7,113.4 1145.2,119.6 1134.0,120.2" fill="#000000" opacity="0.09"/><polygon points="1141.7,113.4 1152.2,112.1 1145.2,119.6" fill="#000000" opacity="0.14"/><polygon points="1152.2,112.1 1148.9,124.1 1145.2,119.6" fill="#ffffff" opacity="0.13"/><polygon points="1152.2,112.1 1157.1,113.0 1160.2,119.6" fill="#ffffff" opacity="0.14"/><polygon points="1152.2,112.1 1160.2,119.6 1148.9,124.1" fill="#000000" opacity="0.06"/><polygon points="1157.1,113.0 1167.7,113.8 1168.7,118.9" fill="#ffffff" opacity="0.10"/><polygon points="1157.1,113.0 1168.7,118.9 1160.2,119.6" fill="#ffffff" opacity="0.05"/><polygon points="1167.7,113.8 1179.5,114.5 1177.0,124.3" fill="#000000" opacity="0.15"/><polygon points="1167.7,113.8 1177.0,124.3 1168.7,118.9" fill="#ffffff" opacity="0.11"/><polygon points="1179.5,114.5 1185.3,114.1 1177.0,124.3" fill="#ffffff" opacity="0.14"/><polygon points="1185.3,114.1 1187.3,122.7 1177.0,124.3" fill="#ffffff" opacity="0.11"/><polygon points="1185.3,114.1 1194.6,110.9 1187.3,122.7" fill="#000000" opacity="0.08"/><polygon points="1194.6,110.9 1192.1,120.8 1187.3,122.7" fill="#ffffff" opacity="0.11"/><polygon points="1194.6,110.9 1204.3,115.0 1200.0,123.1" fill="#000000" opacity="0.09"/><polygon points="1194.6,110.9 1200.0,123.1 1192.1,120.8" fill="#ffffff" opacity="0.04"/><polygon points="1204.3,115.0 1210.3,115.6 1200.0,123.1" fill="#ffffff" opacity="0.07"/><polygon points="1210.3,115.6 1210.3,121.8 1200.0,123.1" fill="#000000" opacity="0.13"/><polygon points="1009.3,123.3 1017.0,121.0 1016.7,128.1" fill="#ffffff" opacity="0.10"/><polygon points="1009.3,123.3 1016.7,128.1 1009.3,131.3" fill="#ffffff" opacity="0.06"/><polygon points="1017.0,121.0 1023.7,122.3 1027.9,132.4" fill="#ffffff" opacity="0.09"/><polygon points="1017.0,121.0 1027.9,132.4 1016.7,128.1" fill="#000000" opacity="0.04"/><polygon points="1023.7,122.3 1031.9,119.1 1027.9,132.4" fill="#ffffff" opacity="0.13"/><polygon points="1031.9,119.1 1036.5,131.4 1027.9,132.4" fill="#000000" opacity="0.10"/><polygon points="1031.9,119.1 1041.1,119.6 1044.7,131.1" fill="#000000" opacity="0.09"/><polygon points="1031.9,119.1 1044.7,131.1 1036.5,131.4" fill="#000000" opacity="0.06"/><polygon points="1041.1,119.6 1050.2,119.0 1044.7,131.1" fill="#000000" opacity="0.13"/><polygon points="1050.2,119.0 1049.6,129.8 1044.7,131.1" fill="#000000" opacity="0.06"/><polygon points="1050.2,119.0 1056.6,119.6 1049.6,129.8" fill="#ffffff" opacity="0.15"/><polygon points="1056.6,119.6 1058.7,127.0 1049.6,129.8" fill="#000000" opacity="0.06"/><polygon points="1056.6,119.6 1065.6,120.8 1058.7,127.0" fill="#000000" opacity="0.05"/><polygon points="1065.6,120.8 1065.2,128.4 1058.7,127.0" fill="#ffffff" opacity="0.13"/><polygon points="1065.6,120.8 1073.5,123.7 1074.9,130.8" fill="#000000" opacity="0.07"/><polygon points="1065.6,120.8 1074.9,130.8 1065.2,128.4" fill="#000000" opacity="0.06"/><polygon points="1073.5,123.7 1085.3,119.6 1074.9,130.8" fill="#000000" opacity="0.06"/><polygon points="1085.3,119.6 1087.4,129.4 1074.9,130.8" fill="#ffffff" opacity="0.10"/><polygon points="1085.3,119.6 1091.6,120.7 1095.6,132.5" fill="#ffffff" opacity="0.06"/><polygon points="1085.3,119.6 1095.6,132.5 1087.4,129.4" fill="#ffffff" opacity="0.15"/><polygon points="1091.6,120.7 1100.6,119.4 1095.6,132.5" fill="#000000" opacity="0.06"/><polygon points="1100.6,119.4 1104.1,128.9 1095.6,132.5" fill="#000000" opacity="0.05"/><polygon points="1100.6,119.4 1111.8,124.4 1104.1,128.9" fill="#000000" opacity="0.08"/><polygon points="1111.8,124.4 1108.2,128.1 1104.1,128.9" fill="#000000" opacity="0.11"/><polygon points="1111.8,124.4 1118.0,121.5 1108.2,128.1" fill="#000000" opacity="0.05"/><polygon points="1118.0,121.5 1116.4,128.0 1108.2,128.1" fill="#000000" opacity="0.12"/><polygon points="1118.0,121.5 1124.1,119.3 1127.3,132.0" fill="#000000" opacity="0.07"/><polygon points="1118.0,121.5 1127.3,132.0 1116.4,128.0" fill="#000000" opacity="0.11"/><polygon points="1124.1,119.3 1134.0,120.2 1136.9,129.6" fill="#000000" opacity="0.09"/><polygon points="1124.1,119.3 1136.9,129.6 1127.3,132.0" fill="#ffffff" opacity="0.13"/><polygon points="1134.0,120.2 1145.2,119.6 1144.2,131.4" fill="#000000" opacity="0.07"/><polygon points="1134.0,120.2 1144.2,131.4 1136.9,129.6" fill="#000000" opacity="0.16"/><polygon points="1145.2,119.6 1148.9,124.1 1144.2,131.4" fill="#000000" opacity="0.08"/><polygon points="1148.9,124.1 1149.2,130.6 1144.2,131.4" fill="#ffffff" opacity="0.04"/><polygon points="1148.9,124.1 1160.2,119.6 1162.5,131.3" fill="#000000" opacity="0.09"/><polygon points="1148.9,124.1 1162.5,131.3 1149.2,130.6" fill="#000000" opacity="0.15"/><polygon points="1160.2,119.6 1168.7,118.9 1169.9,129.6" fill="#ffffff" opacity="0.12"/><polygon points="1160.2,119.6 1169.9,129.6 1162.5,131.3" fill="#ffffff" opacity="0.04"/><polygon points="1168.7,118.9 1177.0,124.3 1174.9,131.3" fill="#ffffff" opacity="0.08"/><polygon points="1168.7,118.9 1174.9,131.3 1169.9,129.6" fill="#ffffff" opacity="0.11"/><polygon points="1177.0,124.3 1187.3,122.7 1174.9,131.3" fill="#ffffff" opacity="0.11"/><polygon points="1187.3,122.7 1184.2,131.4 1174.9,131.3" fill="#ffffff" opacity="0.06"/><polygon points="1187.3,122.7 1192.1,120.8 1184.2,131.4" fill="#ffffff" opacity="0.06"/><polygon points="1192.1,120.8 1196.3,129.1 1184.2,131.4" fill="#ffffff" opacity="0.12"/><polygon points="1192.1,120.8 1200.0,123.1 1196.3,129.1" fill="#000000" opacity="0.09"/><polygon points="1200.0,123.1 1201.3,132.2 1196.3,129.1" fill="#ffffff" opacity="0.04"/><polygon points="1200.0,123.1 1210.3,121.8 1201.3,132.2" fill="#000000" opacity="0.08"/><polygon points="1210.3,121.8 1210.3,131.0 1201.3,132.2" fill="#000000" opacity="0.09"/><polygon points="1009.3,131.3 1016.7,128.1 1009.3,135.9" fill="#000000" opacity="0.07"/><polygon points="1016.7,128.1 1015.5,135.8 1009.3,135.9" fill="#000000" opacity="0.05"/><polygon points="1016.7,128.1 1027.9,132.4 1015.5,135.8" fill="#ffffff" opacity="0.07"/><polygon points="1027.9,132.4 1028.4,139.6 1015.5,135.8" fill="#ffffff" opacity="0.13"/><polygon points="1027.9,132.4 1036.5,131.4 1032.4,139.7" fill="#000000" opacity="0.15"/><polygon points="1027.9,132.4 1032.4,139.7 1028.4,139.6" fill="#ffffff" opacity="0.06"/><polygon points="1036.5,131.4 1044.7,131.1 1032.4,139.7" fill="#000000" opacity="0.12"/><polygon points="1044.7,131.1 1045.6,138.7 1032.4,139.7" fill="#000000" opacity="0.06"/><polygon points="1044.7,131.1 1049.6,129.8 1050.3,138.1" fill="#ffffff" opacity="0.05"/><polygon points="1044.7,131.1 1050.3,138.1 1045.6,138.7" fill="#000000" opacity="0.13"/><polygon points="1049.6,129.8 1058.7,127.0 1050.3,138.1" fill="#ffffff" opacity="0.14"/><polygon points="1058.7,127.0 1057.4,135.1 1050.3,138.1" fill="#000000" opacity="0.10"/><polygon points="1058.7,127.0 1065.2,128.4 1057.4,135.1" fill="#ffffff" opacity="0.07"/><polygon points="1065.2,128.4 1070.7,138.7 1057.4,135.1" fill="#ffffff" opacity="0.07"/><polygon points="1065.2,128.4 1074.9,130.8 1076.5,140.3" fill="#ffffff" opacity="0.13"/><polygon points="1065.2,128.4 1076.5,140.3 1070.7,138.7" fill="#000000" opacity="0.14"/><polygon points="1074.9,130.8 1087.4,129.4 1076.5,140.3" fill="#ffffff" opacity="0.11"/><polygon points="1087.4,129.4 1084.3,139.9 1076.5,140.3" fill="#ffffff" opacity="0.13"/><polygon points="1087.4,129.4 1095.6,132.5 1084.3,139.9" fill="#ffffff" opacity="0.12"/><polygon points="1095.6,132.5 1095.0,136.2 1084.3,139.9" fill="#000000" opacity="0.07"/><polygon points="1095.6,132.5 1104.1,128.9 1095.0,136.2" fill="#ffffff" opacity="0.07"/><polygon points="1104.1,128.9 1100.0,136.6 1095.0,136.2" fill="#ffffff" opacity="0.13"/><polygon points="1104.1,128.9 1108.2,128.1 1100.0,136.6" fill="#000000" opacity="0.08"/><polygon points="1108.2,128.1 1108.3,138.3 1100.0,136.6" fill="#000000" opacity="0.08"/><polygon points="1108.2,128.1 1116.4,128.0 1116.8,137.4" fill="#000000" opacity="0.12"/><polygon points="1108.2,128.1 1116.8,137.4 1108.3,138.3" fill="#000000" opacity="0.12"/><polygon points="1116.4,128.0 1127.3,132.0 1116.8,137.4" fill="#ffffff" opacity="0.14"/><polygon points="1127.3,132.0 1124.4,140.1 1116.8,137.4" fill="#000000" opacity="0.14"/><polygon points="1127.3,132.0 1136.9,129.6 1134.1,137.6" fill="#000000" opacity="0.11"/><polygon points="1127.3,132.0 1134.1,137.6 1124.4,140.1" fill="#ffffff" opacity="0.07"/><polygon points="1136.9,129.6 1144.2,131.4 1134.1,137.6" fill="#ffffff" opacity="0.15"/><polygon points="1144.2,131.4 1143.8,140.1 1134.1,137.6" fill="#ffffff" opacity="0.04"/><polygon points="1144.2,131.4 1149.2,130.6 1151.2,140.2" fill="#000000" opacity="0.08"/><polygon points="1144.2,131.4 1151.2,140.2 1143.8,140.1" fill="#ffffff" opacity="0.04"/><polygon points="1149.2,130.6 1162.5,131.3 1160.1,138.0" fill="#000000" opacity="0.12"/><polygon points="1149.2,130.6 1160.1,138.0 1151.2,140.2" fill="#000000" opacity="0.13"/><polygon points="1162.5,131.3 1169.9,129.6 1168.6,135.1" fill="#000000" opacity="0.08"/><polygon points="1162.5,131.3 1168.6,135.1 1160.1,138.0" fill="#000000" opacity="0.14"/><polygon points="1169.9,129.6 1174.9,131.3 1168.6,135.1" fill="#ffffff" opacity="0.14"/><polygon points="1174.9,131.3 1176.4,136.0 1168.6,135.1" fill="#000000" opacity="0.15"/><polygon points="1174.9,131.3 1184.2,131.4 1182.3,139.5" fill="#ffffff" opacity="0.05"/><polygon points="1174.9,131.3 1182.3,139.5 1176.4,136.0" fill="#ffffff" opacity="0.14"/><polygon points="1184.2,131.4 1196.3,129.1 1182.3,139.5" fill="#000000" opacity="0.14"/><polygon points="1196.3,129.1 1191.6,137.7 1182.3,139.5" fill="#000000" opacity="0.07"/><polygon points="1196.3,129.1 1201.3,132.2 1203.2,138.1" fill="#ffffff" opacity="0.13"/><polygon points="1196.3,129.1 1203.2,138.1 1191.6,137.7" fill="#ffffff" opacity="0.08"/><polygon points="1201.3,132.2 1210.3,131.0 1210.3,136.8" fill="#ffffff" opacity="0.07"/><polygon points="1201.3,132.2 1210.3,136.8 1203.2,138.1" fill="#ffffff" opacity="0.13"/><polygon points="1009.3,135.9 1015.5,135.8 1018.0,147.6" fill="#ffffff" opacity="0.16"/><polygon points="1009.3,135.9 1018.0,147.6 1009.3,146.0" fill="#000000" opacity="0.14"/><polygon points="1015.5,135.8 1028.4,139.6 1018.0,147.6" fill="#ffffff" opacity="0.09"/><polygon points="1028.4,139.6 1023.7,146.3 1018.0,147.6" fill="#ffffff" opacity="0.13"/><polygon points="1028.4,139.6 1032.4,139.7 1033.0,144.7" fill="#000000" opacity="0.10"/><polygon points="1028.4,139.6 1033.0,144.7 1023.7,146.3" fill="#ffffff" opacity="0.14"/><polygon points="1032.4,139.7 1045.6,138.7 1044.4,146.0" fill="#000000" opacity="0.06"/><polygon points="1032.4,139.7 1044.4,146.0 1033.0,144.7" fill="#ffffff" opacity="0.06"/><polygon points="1045.6,138.7 1050.3,138.1 1044.4,146.0" fill="#000000" opacity="0.04"/><polygon points="1050.3,138.1 1051.5,147.4 1044.4,146.0" fill="#ffffff" opacity="0.10"/><polygon points="1050.3,138.1 1057.4,135.1 1051.5,147.4" fill="#ffffff" opacity="0.10"/><polygon points="1057.4,135.1 1062.0,145.6 1051.5,147.4" fill="#ffffff" opacity="0.14"/><polygon points="1057.4,135.1 1070.7,138.7 1068.6,146.0" fill="#000000" opacity="0.07"/><polygon points="1057.4,135.1 1068.6,146.0 1062.0,145.6" fill="#ffffff" opacity="0.12"/><polygon points="1070.7,138.7 1076.5,140.3 1076.4,147.0" fill="#ffffff" opacity="0.12"/><polygon points="1070.7,138.7 1076.4,147.0 1068.6,146.0" fill="#ffffff" opacity="0.13"/><polygon points="1076.5,140.3 1084.3,139.9 1076.4,147.0" fill="#000000" opacity="0.12"/><polygon points="1084.3,139.9 1084.4,146.1 1076.4,147.0" fill="#ffffff" opacity="0.09"/><polygon points="1084.3,139.9 1095.0,136.2 1092.9,148.4" fill="#000000" opacity="0.05"/><polygon points="1084.3,139.9 1092.9,148.4 1084.4,146.1" fill="#000000" opacity="0.04"/><polygon points="1095.0,136.2 1100.0,136.6 1102.6,148.1" fill="#ffffff" opacity="0.15"/><polygon points="1095.0,136.2 1102.6,148.1 1092.9,148.4" fill="#000000" opacity="0.09"/><polygon points="1100.0,136.6 1108.3,138.3 1102.6,148.1" fill="#ffffff" opacity="0.10"/><polygon points="1108.3,138.3 1112.4,144.6 1102.6,148.1" fill="#000000" opacity="0.13"/><polygon points="1108.3,138.3 1116.8,137.4 1112.4,144.6" fill="#000000" opacity="0.08"/><polygon points="1116.8,137.4 1118.5,148.5 1112.4,144.6" fill="#ffffff" opacity="0.06"/><polygon points="1116.8,137.4 1124.4,140.1 1118.5,148.5" fill="#000000" opacity="0.13"/><polygon points="1124.4,140.1 1128.5,143.9 1118.5,148.5" fill="#ffffff" opacity="0.09"/><polygon points="1124.4,140.1 1134.1,137.6 1128.5,143.9" fill="#000000" opacity="0.06"/><polygon points="1134.1,137.6 1132.7,145.6 1128.5,143.9" fill="#ffffff" opacity="0.15"/><polygon points="1134.1,137.6 1143.8,140.1 1140.8,144.5" fill="#ffffff" opacity="0.08"/><polygon points="1134.1,137.6 1140.8,144.5 1132.7,145.6" fill="#000000" opacity="0.14"/><polygon points="1143.8,140.1 1151.2,140.2 1149.2,146.9" fill="#ffffff" opacity="0.07"/><polygon points="1143.8,140.1 1149.2,146.9 1140.8,144.5" fill="#ffffff" opacity="0.10"/><polygon points="1151.2,140.2 1160.1,138.0 1161.7,148.2" fill="#ffffff" opacity="0.06"/><polygon points="1151.2,140.2 1161.7,148.2 1149.2,146.9" fill="#000000" opacity="0.13"/><polygon points="1160.1,138.0 1168.6,135.1 1166.4,147.2" fill="#000000" opacity="0.05"/><polygon points="1160.1,138.0 1166.4,147.2 1161.7,148.2" fill="#ffffff" opacity="0.16"/><polygon points="1168.6,135.1 1176.4,136.0 1166.4,147.2" fill="#000000" opacity="0.09"/><polygon points="1176.4,136.0 1177.7,143.9 1166.4,147.2" fill="#ffffff" opacity="0.12"/><polygon points="1176.4,136.0 1182.3,139.5 1187.4,148.6" fill="#ffffff" opacity="0.09"/><polygon points="1176.4,136.0 1187.4,148.6 1177.7,143.9" fill="#ffffff" opacity="0.09"/><polygon points="1182.3,139.5 1191.6,137.7 1187.4,148.6" fill="#000000" opacity="0.10"/><polygon points="1191.6,137.7 1191.9,148.5 1187.4,148.6" fill="#000000" opacity="0.10"/><polygon points="1191.6,137.7 1203.2,138.1 1201.3,145.9" fill="#000000" opacity="0.09"/><polygon points="1191.6,137.7 1201.3,145.9 1191.9,148.5" fill="#000000" opacity="0.15"/><polygon points="1203.2,138.1 1210.3,136.8 1210.3,148.7" fill="#000000" opacity="0.13"/><polygon points="1203.2,138.1 1210.3,148.7 1201.3,145.9" fill="#ffffff" opacity="0.07"/><polygon points="1009.3,146.0 1018.0,147.6 1009.3,156.0" fill="#000000" opacity="0.13"/><polygon points="1018.0,147.6 1015.7,153.7 1009.3,156.0" fill="#000000" opacity="0.14"/><polygon points="1018.0,147.6 1023.7,146.3 1015.7,153.7" fill="#000000" opacity="0.09"/><polygon points="1023.7,146.3 1026.1,153.1 1015.7,153.7" fill="#ffffff" opacity="0.12"/><polygon points="1023.7,146.3 1033.0,144.7 1032.6,153.0" fill="#ffffff" opacity="0.13"/><polygon points="1023.7,146.3 1032.6,153.0 1026.1,153.1" fill="#000000" opacity="0.12"/><polygon points="1033.0,144.7 1044.4,146.0 1044.1,151.3" fill="#ffffff" opacity="0.09"/><polygon points="1033.0,144.7 1044.1,151.3 1032.6,153.0" fill="#000000" opacity="0.09"/><polygon points="1044.4,146.0 1051.5,147.4 1044.1,151.3" fill="#000000" opacity="0.06"/><polygon points="1051.5,147.4 1051.5,153.7 1044.1,151.3" fill="#000000" opacity="0.13"/><polygon points="1051.5,147.4 1062.0,145.6 1056.7,153.1" fill="#ffffff" opacity="0.16"/><polygon points="1051.5,147.4 1056.7,153.1 1051.5,153.7" fill="#ffffff" opacity="0.11"/><polygon points="1062.0,145.6 1068.6,146.0 1068.7,154.1" fill="#000000" opacity="0.15"/><polygon points="1062.0,145.6 1068.7,154.1 1056.7,153.1" fill="#000000" opacity="0.05"/><polygon points="1068.6,146.0 1076.4,147.0 1068.7,154.1" fill="#000000" opacity="0.13"/><polygon points="1076.4,147.0 1073.7,156.8 1068.7,154.1" fill="#000000" opacity="0.12"/><polygon points="1076.4,147.0 1084.4,146.1 1073.7,156.8" fill="#000000" opacity="0.09"/><polygon points="1084.4,146.1 1086.4,156.7 1073.7,156.8" fill="#000000" opacity="0.07"/><polygon points="1084.4,146.1 1092.9,148.4 1086.4,156.7" fill="#ffffff" opacity="0.13"/><polygon points="1092.9,148.4 1090.7,152.7 1086.4,156.7" fill="#ffffff" opacity="0.16"/><polygon points="1092.9,148.4 1102.6,148.1 1098.7,155.6" fill="#ffffff" opacity="0.07"/><polygon points="1092.9,148.4 1098.7,155.6 1090.7,152.7" fill="#ffffff" opacity="0.04"/><polygon points="1102.6,148.1 1112.4,144.6 1108.5,152.0" fill="#ffffff" opacity="0.12"/><polygon points="1102.6,148.1 1108.5,152.0 1098.7,155.6" fill="#ffffff" opacity="0.07"/><polygon points="1112.4,144.6 1118.5,148.5 1117.7,156.4" fill="#000000" opacity="0.15"/><polygon points="1112.4,144.6 1117.7,156.4 1108.5,152.0" fill="#000000" opacity="0.07"/><polygon points="1118.5,148.5 1128.5,143.9 1117.7,156.4" fill="#ffffff" opacity="0.07"/><polygon points="1128.5,143.9 1128.4,152.7 1117.7,156.4" fill="#ffffff" opacity="0.13"/><polygon points="1128.5,143.9 1132.7,145.6 1128.4,152.7" fill="#000000" opacity="0.10"/><polygon points="1132.7,145.6 1132.9,156.4 1128.4,152.7" fill="#000000" opacity="0.07"/><polygon points="1132.7,145.6 1140.8,144.5 1132.9,156.4" fill="#ffffff" opacity="0.12"/><polygon points="1140.8,144.5 1143.7,155.2 1132.9,156.4" fill="#000000" opacity="0.14"/><polygon points="1140.8,144.5 1149.2,146.9 1149.3,151.5" fill="#ffffff" opacity="0.11"/><polygon points="1140.8,144.5 1149.3,151.5 1143.7,155.2" fill="#ffffff" opacity="0.14"/><polygon points="1149.2,146.9 1161.7,148.2 1161.2,153.6" fill="#000000" opacity="0.07"/><polygon points="1149.2,146.9 1161.2,153.6 1149.3,151.5" fill="#ffffff" opacity="0.07"/><polygon points="1161.7,148.2 1166.4,147.2 1165.9,156.6" fill="#ffffff" opacity="0.04"/><polygon points="1161.7,148.2 1165.9,156.6 1161.2,153.6" fill="#000000" opacity="0.07"/><polygon points="1166.4,147.2 1177.7,143.9 1177.6,155.8" fill="#ffffff" opacity="0.10"/><polygon points="1166.4,147.2 1177.6,155.8 1165.9,156.6" fill="#ffffff" opacity="0.12"/><polygon points="1177.7,143.9 1187.4,148.6 1177.6,155.8" fill="#ffffff" opacity="0.15"/><polygon points="1187.4,148.6 1182.7,156.1 1177.6,155.8" fill="#000000" opacity="0.05"/><polygon points="1187.4,148.6 1191.9,148.5 1182.7,156.1" fill="#000000" opacity="0.13"/><polygon points="1191.9,148.5 1191.0,156.1 1182.7,156.1" fill="#ffffff" opacity="0.14"/><polygon points="1191.9,148.5 1201.3,145.9 1191.0,156.1" fill="#ffffff" opacity="0.04"/><polygon points="1201.3,145.9 1201.7,153.1 1191.0,156.1" fill="#000000" opacity="0.12"/><polygon points="1201.3,145.9 1210.3,148.7 1210.3,154.4" fill="#ffffff" opacity="0.06"/><polygon points="1201.3,145.9 1210.3,154.4 1201.7,153.1" fill="#ffffff" opacity="0.13"/><polygon points="1009.3,156.0 1015.7,153.7 1016.3,160.1" fill="#ffffff" opacity="0.15"/><polygon points="1009.3,156.0 1016.3,160.1 1009.3,164.6" fill="#000000" opacity="0.06"/><polygon points="1015.7,153.7 1026.1,153.1 1016.3,160.1" fill="#000000" opacity="0.13"/><polygon points="1026.1,153.1 1026.2,160.7 1016.3,160.1" fill="#000000" opacity="0.15"/><polygon points="1026.1,153.1 1032.6,153.0 1026.2,160.7" fill="#000000" opacity="0.06"/><polygon points="1032.6,153.0 1032.1,160.3 1026.2,160.7" fill="#000000" opacity="0.10"/><polygon points="1032.6,153.0 1044.1,151.3 1032.1,160.3" fill="#ffffff" opacity="0.15"/><polygon points="1044.1,151.3 1040.2,160.5 1032.1,160.3" fill="#000000" opacity="0.07"/><polygon points="1044.1,151.3 1051.5,153.7 1050.1,161.1" fill="#ffffff" opacity="0.10"/><polygon points="1044.1,151.3 1050.1,161.1 1040.2,160.5" fill="#ffffff" opacity="0.10"/><polygon points="1051.5,153.7 1056.7,153.1 1061.1,161.0" fill="#ffffff" opacity="0.10"/><polygon points="1051.5,153.7 1061.1,161.0 1050.1,161.1" fill="#000000" opacity="0.14"/><polygon points="1056.7,153.1 1068.7,154.1 1067.9,160.4" fill="#000000" opacity="0.10"/><polygon points="1056.7,153.1 1067.9,160.4 1061.1,161.0" fill="#000000" opacity="0.12"/><polygon points="1068.7,154.1 1073.7,156.8 1067.9,160.4" fill="#ffffff" opacity="0.09"/><polygon points="1073.7,156.8 1075.4,159.4 1067.9,160.4" fill="#000000" opacity="0.05"/><polygon points="1073.7,156.8 1086.4,156.7 1075.4,159.4" fill="#000000" opacity="0.04"/><polygon points="1086.4,156.7 1083.2,159.4 1075.4,159.4" fill="#000000" opacity="0.12"/><polygon points="1086.4,156.7 1090.7,152.7 1083.2,159.4" fill="#ffffff" opacity="0.16"/><polygon points="1090.7,152.7 1094.4,162.5 1083.2,159.4" fill="#000000" opacity="0.10"/><polygon points="1090.7,152.7 1098.7,155.6 1094.4,162.5" fill="#ffffff" opacity="0.13"/><polygon points="1098.7,155.6 1099.6,162.0 1094.4,162.5" fill="#000000" opacity="0.08"/><polygon points="1098.7,155.6 1108.5,152.0 1099.6,162.0" fill="#ffffff" opacity="0.10"/><polygon points="1108.5,152.0 1112.3,159.9 1099.6,162.0" fill="#000000" opacity="0.13"/><polygon points="1108.5,152.0 1117.7,156.4 1120.0,161.8" fill="#ffffff" opacity="0.09"/><polygon points="1108.5,152.0 1120.0,161.8 1112.3,159.9" fill="#000000" opacity="0.14"/><polygon points="1117.7,156.4 1128.4,152.7 1126.5,164.1" fill="#000000" opacity="0.09"/><polygon points="1117.7,156.4 1126.5,164.1 1120.0,161.8" fill="#000000" opacity="0.07"/><polygon points="1128.4,152.7 1132.9,156.4 1126.5,164.1" fill="#000000" opacity="0.12"/><polygon points="1132.9,156.4 1134.3,162.2 1126.5,164.1" fill="#000000" opacity="0.08"/><polygon points="1132.9,156.4 1143.7,155.2 1144.4,164.9" fill="#ffffff" opacity="0.11"/><polygon points="1132.9,156.4 1144.4,164.9 1134.3,162.2" fill="#000000" opacity="0.13"/><polygon points="1143.7,155.2 1149.3,151.5 1150.8,164.1" fill="#000000" opacity="0.15"/><polygon points="1143.7,155.2 1150.8,164.1 1144.4,164.9" fill="#000000" opacity="0.05"/><polygon points="1149.3,151.5 1161.2,153.6 1161.3,163.0" fill="#ffffff" opacity="0.06"/><polygon points="1149.3,151.5 1161.3,163.0 1150.8,164.1" fill="#000000" opacity="0.11"/><polygon points="1161.2,153.6 1165.9,156.6 1161.3,163.0" fill="#000000" opacity="0.15"/><polygon points="1165.9,156.6 1167.9,161.3 1161.3,163.0" fill="#000000" opacity="0.11"/><polygon points="1165.9,156.6 1177.6,155.8 1167.9,161.3" fill="#000000" opacity="0.11"/><polygon points="1177.6,155.8 1174.2,160.1 1167.9,161.3" fill="#000000" opacity="0.07"/><polygon points="1177.6,155.8 1182.7,156.1 1174.2,160.1" fill="#ffffff" opacity="0.13"/><polygon points="1182.7,156.1 1182.7,163.6 1174.2,160.1" fill="#ffffff" opacity="0.06"/><polygon points="1182.7,156.1 1191.0,156.1 1192.1,160.3" fill="#000000" opacity="0.15"/><polygon points="1182.7,156.1 1192.1,160.3 1182.7,163.6" fill="#000000" opacity="0.08"/><polygon points="1191.0,156.1 1201.7,153.1 1192.1,160.3" fill="#000000" opacity="0.11"/><polygon points="1201.7,153.1 1199.5,164.1 1192.1,160.3" fill="#ffffff" opacity="0.08"/><polygon points="1201.7,153.1 1210.3,154.4 1210.3,164.3" fill="#ffffff" opacity="0.09"/><polygon points="1201.7,153.1 1210.3,164.3 1199.5,164.1" fill="#000000" opacity="0.15"/><polygon points="1009.3,164.6 1016.3,160.1 1016.4,168.8" fill="#000000" opacity="0.04"/><polygon points="1009.3,164.6 1016.4,168.8 1009.3,171.3" fill="#ffffff" opacity="0.14"/><polygon points="1016.3,160.1 1026.2,160.7 1016.4,168.8" fill="#000000" opacity="0.09"/><polygon points="1026.2,160.7 1024.8,170.1 1016.4,168.8" fill="#ffffff" opacity="0.09"/><polygon points="1026.2,160.7 1032.1,160.3 1024.8,170.1" fill="#000000" opacity="0.16"/><polygon points="1032.1,160.3 1032.4,170.0 1024.8,170.1" fill="#ffffff" opacity="0.09"/><polygon points="1032.1,160.3 1040.2,160.5 1041.4,172.9" fill="#000000" opacity="0.07"/><polygon points="1032.1,160.3 1041.4,172.9 1032.4,170.0" fill="#ffffff" opacity="0.04"/><polygon points="1040.2,160.5 1050.1,161.1 1053.9,170.6" fill="#000000" opacity="0.05"/><polygon points="1040.2,160.5 1053.9,170.6 1041.4,172.9" fill="#000000" opacity="0.05"/><polygon points="1050.1,161.1 1061.1,161.0 1053.9,170.6" fill="#ffffff" opacity="0.04"/><polygon points="1061.1,161.0 1058.1,173.0 1053.9,170.6" fill="#000000" opacity="0.07"/><polygon points="1061.1,161.0 1067.9,160.4 1058.1,173.0" fill="#ffffff" opacity="0.05"/><polygon points="1067.9,160.4 1066.8,169.5 1058.1,173.0" fill="#000000" opacity="0.13"/><polygon points="1067.9,160.4 1075.4,159.4 1066.8,169.5" fill="#000000" opacity="0.05"/><polygon points="1075.4,159.4 1073.4,169.6 1066.8,169.5" fill="#000000" opacity="0.13"/><polygon points="1075.4,159.4 1083.2,159.4 1084.5,170.3" fill="#000000" opacity="0.07"/><polygon points="1075.4,159.4 1084.5,170.3 1073.4,169.6" fill="#000000" opacity="0.13"/><polygon points="1083.2,159.4 1094.4,162.5 1091.3,170.3" fill="#ffffff" opacity="0.12"/><polygon points="1083.2,159.4 1091.3,170.3 1084.5,170.3" fill="#000000" opacity="0.05"/><polygon points="1094.4,162.5 1099.6,162.0 1098.5,169.0" fill="#000000" opacity="0.06"/><polygon points="1094.4,162.5 1098.5,169.0 1091.3,170.3" fill="#000000" opacity="0.10"/><polygon points="1099.6,162.0 1112.3,159.9 1107.4,169.7" fill="#ffffff" opacity="0.11"/><polygon points="1099.6,162.0 1107.4,169.7 1098.5,169.0" fill="#ffffff" opacity="0.12"/><polygon points="1112.3,159.9 1120.0,161.8 1115.5,167.6" fill="#000000" opacity="0.08"/><polygon points="1112.3,159.9 1115.5,167.6 1107.4,169.7" fill="#000000" opacity="0.12"/><polygon points="1120.0,161.8 1126.5,164.1 1125.4,168.8" fill="#ffffff" opacity="0.13"/><polygon points="1120.0,161.8 1125.4,168.8 1115.5,167.6" fill="#000000" opacity="0.13"/><polygon points="1126.5,164.1 1134.3,162.2 1125.4,168.8" fill="#ffffff" opacity="0.05"/><polygon points="1134.3,162.2 1135.4,170.5 1125.4,168.8" fill="#000000" opacity="0.12"/><polygon points="1134.3,162.2 1144.4,164.9 1135.4,170.5" fill="#ffffff" opacity="0.11"/><polygon points="1144.4,164.9 1144.8,171.2 1135.4,170.5" fill="#000000" opacity="0.14"/><polygon points="1144.4,164.9 1150.8,164.1 1144.8,171.2" fill="#ffffff" opacity="0.09"/><polygon points="1150.8,164.1 1152.9,172.5 1144.8,171.2" fill="#000000" opacity="0.09"/><polygon points="1150.8,164.1 1161.3,163.0 1152.9,172.5" fill="#000000" opacity="0.15"/><polygon points="1161.3,163.0 1159.4,169.3 1152.9,172.5" fill="#000000" opacity="0.07"/><polygon points="1161.3,163.0 1167.9,161.3 1171.3,168.3" fill="#ffffff" opacity="0.09"/><polygon points="1161.3,163.0 1171.3,168.3 1159.4,169.3" fill="#000000" opacity="0.14"/><polygon points="1167.9,161.3 1174.2,160.1 1171.3,168.3" fill="#ffffff" opacity="0.14"/><polygon points="1174.2,160.1 1178.1,171.1 1171.3,168.3" fill="#000000" opacity="0.14"/><polygon points="1174.2,160.1 1182.7,163.6 1178.1,171.1" fill="#ffffff" opacity="0.14"/><polygon points="1182.7,163.6 1182.5,172.2 1178.1,171.1" fill="#000000" opacity="0.12"/><polygon points="1182.7,163.6 1192.1,160.3 1182.5,172.2" fill="#ffffff" opacity="0.05"/><polygon points="1192.1,160.3 1195.8,171.0 1182.5,172.2" fill="#000000" opacity="0.14"/><polygon points="1192.1,160.3 1199.5,164.1 1203.3,172.1" fill="#000000" opacity="0.15"/><polygon points="1192.1,160.3 1203.3,172.1 1195.8,171.0" fill="#ffffff" opacity="0.11"/><polygon points="1199.5,164.1 1210.3,164.3 1203.3,172.1" fill="#ffffff" opacity="0.06"/><polygon points="1210.3,164.3 1210.3,168.3 1203.3,172.1" fill="#ffffff" opacity="0.13"/><polygon points="1009.3,171.3 1016.4,168.8 1009.3,178.6" fill="#ffffff" opacity="0.05"/><polygon points="1016.4,168.8 1017.7,180.3 1009.3,178.6" fill="#000000" opacity="0.13"/><polygon points="1016.4,168.8 1024.8,170.1 1027.8,180.3" fill="#000000" opacity="0.15"/><polygon points="1016.4,168.8 1027.8,180.3 1017.7,180.3" fill="#000000" opacity="0.10"/><polygon points="1024.8,170.1 1032.4,170.0 1034.9,180.7" fill="#000000" opacity="0.06"/><polygon points="1024.8,170.1 1034.9,180.7 1027.8,180.3" fill="#ffffff" opacity="0.06"/><polygon points="1032.4,170.0 1041.4,172.9 1034.9,180.7" fill="#ffffff" opacity="0.11"/><polygon points="1041.4,172.9 1043.9,179.5 1034.9,180.7" fill="#ffffff" opacity="0.10"/><polygon points="1041.4,172.9 1053.9,170.6 1049.6,175.8" fill="#ffffff" opacity="0.16"/><polygon points="1041.4,172.9 1049.6,175.8 1043.9,179.5" fill="#ffffff" opacity="0.05"/><polygon points="1053.9,170.6 1058.1,173.0 1049.6,175.8" fill="#000000" opacity="0.06"/><polygon points="1058.1,173.0 1057.4,177.6 1049.6,175.8" fill="#000000" opacity="0.08"/><polygon points="1058.1,173.0 1066.8,169.5 1057.4,177.6" fill="#ffffff" opacity="0.04"/><polygon points="1066.8,169.5 1065.6,180.3 1057.4,177.6" fill="#000000" opacity="0.14"/><polygon points="1066.8,169.5 1073.4,169.6 1076.6,179.2" fill="#000000" opacity="0.07"/><polygon points="1066.8,169.5 1076.6,179.2 1065.6,180.3" fill="#000000" opacity="0.09"/><polygon points="1073.4,169.6 1084.5,170.3 1076.6,179.2" fill="#000000" opacity="0.14"/><polygon points="1084.5,170.3 1085.4,179.5 1076.6,179.2" fill="#000000" opacity="0.07"/><polygon points="1084.5,170.3 1091.3,170.3 1093.0,175.6" fill="#ffffff" opacity="0.06"/><polygon points="1084.5,170.3 1093.0,175.6 1085.4,179.5" fill="#ffffff" opacity="0.05"/><polygon points="1091.3,170.3 1098.5,169.0 1093.0,175.6" fill="#000000" opacity="0.09"/><polygon points="1098.5,169.0 1103.2,179.8 1093.0,175.6" fill="#000000" opacity="0.15"/><polygon points="1098.5,169.0 1107.4,169.7 1109.8,178.6" fill="#000000" opacity="0.09"/><polygon points="1098.5,169.0 1109.8,178.6 1103.2,179.8" fill="#ffffff" opacity="0.16"/><polygon points="1107.4,169.7 1115.5,167.6 1119.1,176.0" fill="#000000" opacity="0.12"/><polygon points="1107.4,169.7 1119.1,176.0 1109.8,178.6" fill="#000000" opacity="0.12"/><polygon points="1115.5,167.6 1125.4,168.8 1127.9,177.0" fill="#ffffff" opacity="0.06"/><polygon points="1115.5,167.6 1127.9,177.0 1119.1,176.0" fill="#000000" opacity="0.16"/><polygon points="1125.4,168.8 1135.4,170.5 1132.4,177.1" fill="#ffffff" opacity="0.07"/><polygon points="1125.4,168.8 1132.4,177.1 1127.9,177.0" fill="#ffffff" opacity="0.15"/><polygon points="1135.4,170.5 1144.8,171.2 1132.4,177.1" fill="#000000" opacity="0.05"/><polygon points="1144.8,171.2 1144.6,176.8 1132.4,177.1" fill="#000000" opacity="0.13"/><polygon points="1144.8,171.2 1152.9,172.5 1144.6,176.8" fill="#000000" opacity="0.05"/><polygon points="1152.9,172.5 1153.1,181.1 1144.6,176.8" fill="#ffffff" opacity="0.13"/><polygon points="1152.9,172.5 1159.4,169.3 1153.1,181.1" fill="#000000" opacity="0.08"/><polygon points="1159.4,169.3 1160.0,177.8 1153.1,181.1" fill="#000000" opacity="0.13"/><polygon points="1159.4,169.3 1171.3,168.3 1168.3,179.5" fill="#ffffff" opacity="0.07"/><polygon points="1159.4,169.3 1168.3,179.5 1160.0,177.8" fill="#ffffff" opacity="0.10"/><polygon points="1171.3,168.3 1178.1,171.1 1178.4,179.1" fill="#ffffff" opacity="0.06"/><polygon points="1171.3,168.3 1178.4,179.1 1168.3,179.5" fill="#000000" opacity="0.04"/><polygon points="1178.1,171.1 1182.5,172.2 1178.4,179.1" fill="#ffffff" opacity="0.04"/><polygon points="1182.5,172.2 1186.0,176.0 1178.4,179.1" fill="#000000" opacity="0.07"/><polygon points="1182.5,172.2 1195.8,171.0 1186.0,176.0" fill="#000000" opacity="0.15"/><polygon points="1195.8,171.0 1191.5,177.0 1186.0,176.0" fill="#ffffff" opacity="0.09"/><polygon points="1195.8,171.0 1203.3,172.1 1203.4,177.3" fill="#000000" opacity="0.14"/><polygon points="1195.8,171.0 1203.4,177.3 1191.5,177.0" fill="#000000" opacity="0.09"/><polygon points="1203.3,172.1 1210.3,168.3 1210.3,178.8" fill="#000000" opacity="0.10"/><polygon points="1203.3,172.1 1210.3,178.8 1203.4,177.3" fill="#000000" opacity="0.06"/><polygon points="1009.3,178.6 1017.7,180.3 1015.1,185.2" fill="#ffffff" opacity="0.13"/><polygon points="1009.3,178.6 1015.1,185.2 1009.3,183.8" fill="#000000" opacity="0.06"/><polygon points="1017.7,180.3 1027.8,180.3 1015.1,185.2" fill="#ffffff" opacity="0.09"/><polygon points="1027.8,180.3 1027.1,187.6 1015.1,185.2" fill="#ffffff" opacity="0.07"/><polygon points="1027.8,180.3 1034.9,180.7 1027.1,187.6" fill="#ffffff" opacity="0.06"/><polygon points="1034.9,180.7 1035.5,185.4 1027.1,187.6" fill="#ffffff" opacity="0.08"/><polygon points="1034.9,180.7 1043.9,179.5 1035.5,185.4" fill="#ffffff" opacity="0.16"/><polygon points="1043.9,179.5 1042.9,186.4 1035.5,185.4" fill="#ffffff" opacity="0.15"/><polygon points="1043.9,179.5 1049.6,175.8 1042.9,186.4" fill="#ffffff" opacity="0.10"/><polygon points="1049.6,175.8 1051.0,184.4 1042.9,186.4" fill="#ffffff" opacity="0.07"/><polygon points="1049.6,175.8 1057.4,177.6 1061.9,184.8" fill="#ffffff" opacity="0.16"/><polygon points="1049.6,175.8 1061.9,184.8 1051.0,184.4" fill="#000000" opacity="0.15"/><polygon points="1057.4,177.6 1065.6,180.3 1070.7,189.0" fill="#ffffff" opacity="0.15"/><polygon points="1057.4,177.6 1070.7,189.0 1061.9,184.8" fill="#ffffff" opacity="0.13"/><polygon points="1065.6,180.3 1076.6,179.2 1073.5,186.3" fill="#000000" opacity="0.04"/><polygon points="1065.6,180.3 1073.5,186.3 1070.7,189.0" fill="#000000" opacity="0.08"/><polygon points="1076.6,179.2 1085.4,179.5 1086.6,189.2" fill="#ffffff" opacity="0.14"/><polygon points="1076.6,179.2 1086.6,189.2 1073.5,186.3" fill="#000000" opacity="0.06"/><polygon points="1085.4,179.5 1093.0,175.6 1092.8,185.2" fill="#000000" opacity="0.07"/><polygon points="1085.4,179.5 1092.8,185.2 1086.6,189.2" fill="#000000" opacity="0.06"/><polygon points="1093.0,175.6 1103.2,179.8 1099.7,189.1" fill="#000000" opacity="0.13"/><polygon points="1093.0,175.6 1099.7,189.1 1092.8,185.2" fill="#ffffff" opacity="0.05"/><polygon points="1103.2,179.8 1109.8,178.6 1108.1,187.0" fill="#000000" opacity="0.10"/><polygon points="1103.2,179.8 1108.1,187.0 1099.7,189.1" fill="#ffffff" opacity="0.06"/><polygon points="1109.8,178.6 1119.1,176.0 1108.1,187.0" fill="#000000" opacity="0.14"/><polygon points="1119.1,176.0 1116.1,186.7 1108.1,187.0" fill="#000000" opacity="0.06"/><polygon points="1119.1,176.0 1127.9,177.0 1129.2,184.5" fill="#000000" opacity="0.09"/><polygon points="1119.1,176.0 1129.2,184.5 1116.1,186.7" fill="#000000" opacity="0.05"/><polygon points="1127.9,177.0 1132.4,177.1 1129.2,184.5" fill="#ffffff" opacity="0.14"/><polygon points="1132.4,177.1 1136.8,186.6 1129.2,184.5" fill="#000000" opacity="0.10"/><polygon points="1132.4,177.1 1144.6,176.8 1145.6,187.7" fill="#000000" opacity="0.10"/><polygon points="1132.4,177.1 1145.6,187.7 1136.8,186.6" fill="#000000" opacity="0.07"/><polygon points="1144.6,176.8 1153.1,181.1 1150.1,188.8" fill="#000000" opacity="0.08"/><polygon points="1144.6,176.8 1150.1,188.8 1145.6,187.7" fill="#ffffff" opacity="0.08"/><polygon points="1153.1,181.1 1160.0,177.8 1150.1,188.8" fill="#ffffff" opacity="0.10"/><polygon points="1160.0,177.8 1160.0,183.9 1150.1,188.8" fill="#ffffff" opacity="0.10"/><polygon points="1160.0,177.8 1168.3,179.5 1165.5,186.5" fill="#000000" opacity="0.14"/><polygon points="1160.0,177.8 1165.5,186.5 1160.0,183.9" fill="#000000" opacity="0.08"/><polygon points="1168.3,179.5 1178.4,179.1 1165.5,186.5" fill="#ffffff" opacity="0.13"/><polygon points="1178.4,179.1 1176.5,185.4 1165.5,186.5" fill="#ffffff" opacity="0.14"/><polygon points="1178.4,179.1 1186.0,176.0 1176.5,185.4" fill="#ffffff" opacity="0.10"/><polygon points="1186.0,176.0 1183.1,185.7 1176.5,185.4" fill="#000000" opacity="0.10"/><polygon points="1186.0,176.0 1191.5,177.0 1192.5,188.5" fill="#000000" opacity="0.07"/><polygon points="1186.0,176.0 1192.5,188.5 1183.1,185.7" fill="#ffffff" opacity="0.05"/><polygon points="1191.5,177.0 1203.4,177.3 1199.0,188.0" fill="#000000" opacity="0.04"/><polygon points="1191.5,177.0 1199.0,188.0 1192.5,188.5" fill="#ffffff" opacity="0.12"/><polygon points="1203.4,177.3 1210.3,178.8 1210.3,188.5" fill="#ffffff" opacity="0.11"/><polygon points="1203.4,177.3 1210.3,188.5 1199.0,188.0" fill="#000000" opacity="0.10"/><polygon points="1009.3,183.8 1015.1,185.2 1009.3,192.5" fill="#ffffff" opacity="0.14"/><polygon points="1015.1,185.2 1020.2,195.9 1009.3,192.5" fill="#000000" opacity="0.05"/><polygon points="1015.1,185.2 1027.1,187.6 1028.4,193.5" fill="#ffffff" opacity="0.10"/><polygon points="1015.1,185.2 1028.4,193.5 1020.2,195.9" fill="#ffffff" opacity="0.05"/><polygon points="1027.1,187.6 1035.5,185.4 1033.7,194.1" fill="#ffffff" opacity="0.11"/><polygon points="1027.1,187.6 1033.7,194.1 1028.4,193.5" fill="#000000" opacity="0.06"/><polygon points="1035.5,185.4 1042.9,186.4 1033.7,194.1" fill="#000000" opacity="0.06"/><polygon points="1042.9,186.4 1045.7,195.2 1033.7,194.1" fill="#000000" opacity="0.15"/><polygon points="1042.9,186.4 1051.0,184.4 1050.4,194.3" fill="#ffffff" opacity="0.14"/><polygon points="1042.9,186.4 1050.4,194.3 1045.7,195.2" fill="#000000" opacity="0.09"/><polygon points="1051.0,184.4 1061.9,184.8 1050.4,194.3" fill="#000000" opacity="0.08"/><polygon points="1061.9,184.8 1058.2,192.1 1050.4,194.3" fill="#ffffff" opacity="0.08"/><polygon points="1061.9,184.8 1070.7,189.0 1065.6,196.6" fill="#000000" opacity="0.14"/><polygon points="1061.9,184.8 1065.6,196.6 1058.2,192.1" fill="#000000" opacity="0.14"/><polygon points="1070.7,189.0 1073.5,186.3 1065.6,196.6" fill="#ffffff" opacity="0.10"/><polygon points="1073.5,186.3 1075.0,197.2 1065.6,196.6" fill="#000000" opacity="0.15"/><polygon points="1073.5,186.3 1086.6,189.2 1083.2,193.3" fill="#ffffff" opacity="0.12"/><polygon points="1073.5,186.3 1083.2,193.3 1075.0,197.2" fill="#ffffff" opacity="0.10"/><polygon points="1086.6,189.2 1092.8,185.2 1093.1,192.9" fill="#ffffff" opacity="0.10"/><polygon points="1086.6,189.2 1093.1,192.9 1083.2,193.3" fill="#ffffff" opacity="0.06"/><polygon points="1092.8,185.2 1099.7,189.1 1093.1,192.9" fill="#000000" opacity="0.15"/><polygon points="1099.7,189.1 1100.7,197.3 1093.1,192.9" fill="#000000" opacity="0.14"/><polygon points="1099.7,189.1 1108.1,187.0 1100.7,197.3" fill="#000000" opacity="0.04"/><polygon points="1108.1,187.0 1112.1,196.5 1100.7,197.3" fill="#000000" opacity="0.07"/><polygon points="1108.1,187.0 1116.1,186.7 1112.1,196.5" fill="#ffffff" opacity="0.11"/><polygon points="1116.1,186.7 1118.9,197.0 1112.1,196.5" fill="#000000" opacity="0.11"/><polygon points="1116.1,186.7 1129.2,184.5 1129.1,195.0" fill="#000000" opacity="0.09"/><polygon points="1116.1,186.7 1129.1,195.0 1118.9,197.0" fill="#000000" opacity="0.07"/><polygon points="1129.2,184.5 1136.8,186.6 1136.2,192.1" fill="#000000" opacity="0.05"/><polygon points="1129.2,184.5 1136.2,192.1 1129.1,195.0" fill="#000000" opacity="0.15"/><polygon points="1136.8,186.6 1145.6,187.7 1136.2,192.1" fill="#ffffff" opacity="0.10"/><polygon points="1145.6,187.7 1144.7,194.4 1136.2,192.1" fill="#000000" opacity="0.06"/><polygon points="1145.6,187.7 1150.1,188.8 1153.2,195.5" fill="#ffffff" opacity="0.08"/><polygon points="1145.6,187.7 1153.2,195.5 1144.7,194.4" fill="#ffffff" opacity="0.07"/><polygon points="1150.1,188.8 1160.0,183.9 1158.8,192.1" fill="#ffffff" opacity="0.11"/><polygon points="1150.1,188.8 1158.8,192.1 1153.2,195.5" fill="#000000" opacity="0.11"/><polygon points="1160.0,183.9 1165.5,186.5 1158.8,192.1" fill="#000000" opacity="0.06"/><polygon points="1165.5,186.5 1170.9,192.6 1158.8,192.1" fill="#000000" opacity="0.10"/><polygon points="1165.5,186.5 1176.5,185.4 1170.9,192.6" fill="#000000" opacity="0.10"/><polygon points="1176.5,185.4 1176.6,193.8 1170.9,192.6" fill="#ffffff" opacity="0.07"/><polygon points="1176.5,185.4 1183.1,185.7 1184.0,196.0" fill="#000000" opacity="0.09"/><polygon points="1176.5,185.4 1184.0,196.0 1176.6,193.8" fill="#000000" opacity="0.04"/><polygon points="1183.1,185.7 1192.5,188.5 1196.3,193.3" fill="#000000" opacity="0.07"/><polygon points="1183.1,185.7 1196.3,193.3 1184.0,196.0" fill="#000000" opacity="0.10"/><polygon points="1192.5,188.5 1199.0,188.0 1202.8,193.5" fill="#000000" opacity="0.08"/><polygon points="1192.5,188.5 1202.8,193.5 1196.3,193.3" fill="#000000" opacity="0.06"/><polygon points="1199.0,188.0 1210.3,188.5 1210.3,195.0" fill="#000000" opacity="0.09"/><polygon points="1199.0,188.0 1210.3,195.0 1202.8,193.5" fill="#ffffff" opacity="0.09"/><polygon points="1009.3,192.5 1020.2,195.9 1017.1,202.8" fill="#000000" opacity="0.05"/><polygon points="1009.3,192.5 1017.1,202.8 1009.3,202.8" fill="#ffffff" opacity="0.16"/><polygon points="1020.2,195.9 1028.4,193.5 1017.1,202.8" fill="#ffffff" opacity="0.08"/><polygon points="1028.4,193.5 1024.1,202.8 1017.1,202.8" fill="#ffffff" opacity="0.12"/><polygon points="1028.4,193.5 1033.7,194.1 1024.1,202.8" fill="#000000" opacity="0.14"/><polygon points="1033.7,194.1 1032.4,202.8 1024.1,202.8" fill="#000000" opacity="0.13"/><polygon points="1033.7,194.1 1045.7,195.2 1032.4,202.8" fill="#000000" opacity="0.10"/><polygon points="1045.7,195.2 1041.1,202.8 1032.4,202.8" fill="#000000" opacity="0.13"/><polygon points="1045.7,195.2 1050.4,194.3 1041.1,202.8" fill="#ffffff" opacity="0.14"/><polygon points="1050.4,194.3 1053.6,202.8 1041.1,202.8" fill="#ffffff" opacity="0.13"/><polygon points="1050.4,194.3 1058.2,192.1 1053.6,202.8" fill="#ffffff" opacity="0.16"/><polygon points="1058.2,192.1 1059.5,202.8 1053.6,202.8" fill="#000000" opacity="0.09"/><polygon points="1058.2,192.1 1065.6,196.6 1059.5,202.8" fill="#000000" opacity="0.11"/><polygon points="1065.6,196.6 1066.3,202.8 1059.5,202.8" fill="#ffffff" opacity="0.09"/><polygon points="1065.6,196.6 1075.0,197.2 1078.7,202.8" fill="#000000" opacity="0.08"/><polygon points="1065.6,196.6 1078.7,202.8 1066.3,202.8" fill="#ffffff" opacity="0.11"/><polygon points="1075.0,197.2 1083.2,193.3 1087.6,202.8" fill="#ffffff" opacity="0.13"/><polygon points="1075.0,197.2 1087.6,202.8 1078.7,202.8" fill="#000000" opacity="0.10"/><polygon points="1083.2,193.3 1093.1,192.9 1092.8,202.8" fill="#ffffff" opacity="0.08"/><polygon points="1083.2,193.3 1092.8,202.8 1087.6,202.8" fill="#ffffff" opacity="0.11"/><polygon points="1093.1,192.9 1100.7,197.3 1092.8,202.8" fill="#ffffff" opacity="0.15"/><polygon points="1100.7,197.3 1099.3,202.8 1092.8,202.8" fill="#ffffff" opacity="0.14"/><polygon points="1100.7,197.3 1112.1,196.5 1099.3,202.8" fill="#000000" opacity="0.06"/><polygon points="1112.1,196.5 1108.0,202.8 1099.3,202.8" fill="#ffffff" opacity="0.15"/><polygon points="1112.1,196.5 1118.9,197.0 1115.8,202.8" fill="#ffffff" opacity="0.11"/><polygon points="1112.1,196.5 1115.8,202.8 1108.0,202.8" fill="#ffffff" opacity="0.15"/><polygon points="1118.9,197.0 1129.1,195.0 1115.8,202.8" fill="#000000" opacity="0.16"/><polygon points="1129.1,195.0 1125.6,202.8 1115.8,202.8" fill="#000000" opacity="0.10"/><polygon points="1129.1,195.0 1136.2,192.1 1125.6,202.8" fill="#ffffff" opacity="0.08"/><polygon points="1136.2,192.1 1132.5,202.8 1125.6,202.8" fill="#000000" opacity="0.08"/><polygon points="1136.2,192.1 1144.7,194.4 1132.5,202.8" fill="#000000" opacity="0.10"/><polygon points="1144.7,194.4 1141.8,202.8 1132.5,202.8" fill="#ffffff" opacity="0.08"/><polygon points="1144.7,194.4 1153.2,195.5 1150.3,202.8" fill="#000000" opacity="0.11"/><polygon points="1144.7,194.4 1150.3,202.8 1141.8,202.8" fill="#000000" opacity="0.16"/><polygon points="1153.2,195.5 1158.8,192.1 1160.5,202.8" fill="#ffffff" opacity="0.11"/><polygon points="1153.2,195.5 1160.5,202.8 1150.3,202.8" fill="#000000" opacity="0.08"/><polygon points="1158.8,192.1 1170.9,192.6 1160.5,202.8" fill="#000000" opacity="0.06"/><polygon points="1170.9,192.6 1170.7,202.8 1160.5,202.8" fill="#ffffff" opacity="0.16"/><polygon points="1170.9,192.6 1176.6,193.8 1170.7,202.8" fill="#000000" opacity="0.05"/><polygon points="1176.6,193.8 1178.3,202.8 1170.7,202.8" fill="#000000" opacity="0.12"/><polygon points="1176.6,193.8 1184.0,196.0 1178.3,202.8" fill="#000000" opacity="0.15"/><polygon points="1184.0,196.0 1184.7,202.8 1178.3,202.8" fill="#ffffff" opacity="0.06"/><polygon points="1184.0,196.0 1196.3,193.3 1193.0,202.8" fill="#000000" opacity="0.10"/><polygon points="1184.0,196.0 1193.0,202.8 1184.7,202.8" fill="#ffffff" opacity="0.06"/><polygon points="1196.3,193.3 1202.8,193.5 1193.0,202.8" fill="#000000" opacity="0.08"/><polygon points="1202.8,193.5 1202.1,202.8 1193.0,202.8" fill="#000000" opacity="0.12"/><polygon points="1202.8,193.5 1210.3,195.0 1210.3,202.8" fill="#ffffff" opacity="0.13"/><polygon points="1202.8,193.5 1210.3,202.8 1202.1,202.8" fill="#ffffff" opacity="0.12"/>
</g>
</svg>
<svg style="position:absolute;left:0;top:0" width="1280" height="720" viewBox="0 0 1280 720">
<defs>
<filter id="ds" x="-20%" y="-20%" width="150%" height="160%"><feDropShadow dx="2" dy="3" stdDeviation="2" flood-color="#000" flood-opacity="0.4"/></filter>
<filter id="ds2" x="-20%" y="-20%" width="150%" height="160%"><feDropShadow dx="1.5" dy="2.5" stdDeviation="1.8" flood-color="#000" flood-opacity="0.45"/></filter>
</defs>
<rect x="15" y="209.5" width="1251.00" height="11.50" fill="#002060" filter="url(#ds)" />
<rect x="400.5" y="46.5" width="504.00" height="35.00" fill="#ffff00" filter="url(#ds)" stroke="#b99a10" stroke-width="1"/>
<path d="M400.5,190 L400.5,104 Q400.5,101.5 403,101 A253 20 0 0 1 902,101 Q904.5,101.5 904.5,104 L904.5,189.5 C820,196 720,208 652.5,211 C585,208 485,196 400.5,190 Z" fill="#c00000" stroke="#c8621e" stroke-width="1" filter="url(#ds)"/>
<ellipse cx="436.5" cy="122.7" rx="27.8" ry="24.3" fill="#1e8064" filter="url(#ds)" stroke="#c8621e" stroke-width="1"/>
<ellipse cx="483.7" cy="164.8" rx="27.8" ry="24.3" fill="#1e8064" filter="url(#ds)" stroke="#c8621e" stroke-width="1"/>
<ellipse cx="547" cy="113.5" rx="27.8" ry="24.3" fill="#ff0000" filter="url(#ds)" stroke="#c8621e" stroke-width="1"/>
<ellipse cx="562" cy="176" rx="27.8" ry="24.3" fill="#ff0000" filter="url(#ds)" stroke="#c8621e" stroke-width="1"/>
<ellipse cx="647" cy="106.8" rx="27.8" ry="24.3" fill="#ff0000" filter="url(#ds)" stroke="#c8621e" stroke-width="1"/>
<ellipse cx="652.8" cy="185.3" rx="27.8" ry="24.3" fill="#ff0000" filter="url(#ds)" stroke="#c8621e" stroke-width="1"/>
<ellipse cx="774.4" cy="113.3" rx="27.8" ry="24.3" fill="#ff0000" filter="url(#ds)" stroke="#c8621e" stroke-width="1"/>
<ellipse cx="753.6" cy="170.3" rx="27.8" ry="24.3" fill="#ff0000" filter="url(#ds)" stroke="#c8621e" stroke-width="1"/>
<ellipse cx="817.2" cy="171" rx="27.8" ry="24.3" fill="#1e8064" filter="url(#ds)" stroke="#c8621e" stroke-width="1"/>
<ellipse cx="868.4" cy="122.6" rx="27.8" ry="24.3" fill="#1e8064" filter="url(#ds)" stroke="#c8621e" stroke-width="1"/>
<rect x="31.3" y="228.1" width="276.20" height="55.50" fill="#0070c0" filter="url(#ds)" />
<rect x="31" y="448.3" width="410.00" height="38.20" fill="#0070c0" filter="url(#ds)" />
<rect x="31.5" y="507" width="347.50" height="55.60" fill="#0070c0" filter="url(#ds)" />
<rect x="31.5" y="577.2" width="347.50" height="55.60" fill="#0070c0" filter="url(#ds)" />
<rect x="952.2" y="228.2" width="305.10" height="61.40" fill="#000" filter="url(#ds)" />
<ellipse cx="650" cy="368" rx="120" ry="103" fill="#1e8064" filter="url(#ds)" />
<rect x="400.5" y="228.7" width="504.00" height="36.30" fill="#ffff00" filter="url(#ds)" stroke="#b99a10" stroke-width="1"/>
<g fill="#fff" filter="url(#ds2)"><rect x="638" y="279" width="26.3" height="5.8"/><rect x="648.3" y="266.5" width="5.7" height="32"/></g>
<ellipse cx="650" cy="338.5" rx="115" ry="32" fill="#ff0000" filter="url(#ds)" stroke="#c8621e" stroke-width="1"/>
<rect x="771.6" y="358" width="485.80" height="128.40" fill="#4e3b30" filter="url(#ds)" />
<rect x="771.6" y="449.2" width="485.80" height="37.20" fill="#2e2514" />
<rect x="1061.8" y="453.3" width="203.00" height="29.40" fill="#000" filter="url(#ds)" />
<path d="M940,334 L1079,334 A9.5 9.5 0 0 0 1088.5,324.5 L1088.5,317 L1069.5,317 L1096.5,287.5 L1124,317 L1103.5,317 L1103.5,324.5 A24.5 24.5 0 0 1 1079,349 L940,349 Z" fill="#000" stroke="#fff" stroke-width="1" filter="url(#ds)"/>
<rect x="771.5" y="307.2" width="180.60" height="51.00" fill="#000" filter="url(#ds)" />
<rect x="14.5" y="491" width="1251.50" height="11.50" fill="#1e8064" filter="url(#ds)" />
<ellipse cx="650" cy="613.5" rx="120" ry="103.5" fill="#1e8064" filter="url(#ds)" />
<ellipse cx="651" cy="591.5" rx="120" ry="50.5" fill="#ff0000" filter="url(#ds)" stroke="#c8621e" stroke-width="1"/>
<ellipse cx="650.7" cy="652" rx="113" ry="24" fill="#000" filter="url(#ds)" />
<rect x="643" y="687" width="17" height="5.5" fill="#fff" filter="url(#ds2)"/>
<path d="M644,414 L644,399 L631,399 L650.7,371 L670.5,399 L657,399 L657,414 Z" fill="#ff0000" filter="url(#ds)"/>
<path d="M644,478 L658,478 L658,502.4 L670,502.4 L651,540 L631.1,502.4 L644,502.4 Z" fill="#ff0000" filter="url(#ds)"/>
<ellipse cx="650.7" cy="445.8" rx="79.7" ry="33.8" fill="#ff0000" filter="url(#ds)" stroke="#c8621e" stroke-width="1"/>
<path d="M487.5,500 L487.5,343 L475,343 L500,320.7 L524.7,343 L512.5,343 L512.5,500 Z" fill="#ff0000" stroke="#c8621e" stroke-width="0.8" filter="url(#ds)"/>
<rect x="445.2" y="266.4" width="109.40" height="51.80" fill="#ff0000" filter="url(#ds)" stroke="#c8621e" stroke-width="1"/>
<rect x="445.2" y="498.2" width="109.40" height="52.00" fill="#ff0000" filter="url(#ds)" stroke="#c8621e" stroke-width="1"/>
<rect x="771.4" y="506.4" width="485.90" height="56.50" fill="#000" filter="url(#ds)" />
<rect x="771.4" y="576.7" width="485.90" height="56.30" fill="#000" filter="url(#ds)" />
<rect x="771.4" y="647.4" width="485.90" height="56.00" fill="#000" filter="url(#ds)" />
</svg>
<div class="t" style="left:40.43px;top:20.58px;font-size:52.03px;line-height:52.03px;color:#ffffff;transform:scaleX(0.7148);-webkit-text-stroke:1.2px #0f0e12;">Inima</div>
<div class="t" style="left:581.23px;top:46.85px;font-size:32.17px;line-height:32.17px;color:#262614;transform:scaleX(0.6353);">CONȘTIENTUL</div>
<div class="t" style="left:609.70px;top:127.34px;font-size:37.25px;line-height:37.25px;color:#ffffff;transform:scaleX(0.6341);text-shadow:2px 2px 3px rgba(0,0,0,0.55);-webkit-text-stroke:0.7px #ffffff;">VOINȚA</div>
<div class="t" style="left:515.01px;top:230.49px;font-size:31.30px;line-height:31.30px;color:#262614;transform:scaleX(0.6942);">SUBCONȘTIENTUL / INIMA</div>
<div class="t" style="left:93.13px;top:231.81px;font-size:44.93px;line-height:44.93px;color:#ffffff;transform:scaleX(0.6416);text-shadow:2px 2px 3px rgba(0,0,0,0.55);-webkit-text-stroke:0.7px #ffffff;">DAU (A DA)</div>
<div class="t" style="left:977.39px;top:234.35px;font-size:45.94px;line-height:45.94px;color:#ffffff;transform:scaleX(0.6283);-webkit-text-stroke:0.7px #ffffff;">PRIMESC (A PRIMI)</div>
<div class="t" style="left:484.62px;top:271.55px;font-size:39.71px;line-height:39.71px;color:#ffffff;transform:scaleX(0.5942);text-shadow:2px 2px 3px rgba(0,0,0,0.55);-webkit-text-stroke:0.7px #ffffff;">DA</div>
<div class="t" style="left:608.14px;top:318.52px;font-size:39.86px;line-height:39.86px;color:#ffffff;transform:scaleX(0.5813);text-shadow:2px 2px 3px rgba(0,0,0,0.55);-webkit-text-stroke:0.7px #ffffff;">CÂȘTIG</div>
<div class="t" style="left:832.85px;top:309.27px;font-size:45.80px;line-height:45.80px;color:#ffffff;transform:scaleX(0.6135);-webkit-text-stroke:0.7px #ffffff;">DAU</div>
<div class="t" style="left:781.39px;top:366.48px;font-size:30.72px;line-height:30.72px;color:#f6f2e4;transform:scaleX(0.6541);">POT SĂ PRODUC / CREEZ</div>
<div class="t" style="left:781.40px;top:410.14px;font-size:31.59px;line-height:31.59px;color:#f6f2e4;transform:scaleX(0.6297);">AM PROPRIETATE</div>
<div class="t" style="left:780.80px;top:451.62px;font-size:31.74px;line-height:31.74px;color:#f6f2e4;transform:scaleX(0.6338);">IDENTITATE: CINE SUNT EU?</div>
<div class="t" style="left:1114.50px;top:358.64px;font-size:42.90px;line-height:42.90px;color:#ffffff;transform:scaleX(0.6342);-webkit-text-stroke:0.7px #ffffff;">MĂNDRIE</div>
<div class="t" style="left:1122.53px;top:404.80px;font-size:41.88px;line-height:41.88px;color:#ffffff;transform:scaleX(0.6553);-webkit-text-stroke:0.7px #ffffff;">EGOISM</div>
<div class="t" style="left:1071.01px;top:452.41px;font-size:30.58px;line-height:30.58px;color:#ffffff;transform:scaleX(0.6954);">SUNT DUMNEZEU</div>
<div class="t" style="left:634.86px;top:425.18px;font-size:40.72px;line-height:40.72px;color:#ffffff;transform:scaleX(0.5804);text-shadow:2px 2px 3px rgba(0,0,0,0.55);-webkit-text-stroke:0.7px #ffffff;">EU</div>
<div class="t" style="left:72.91px;top:455.52px;font-size:31.74px;line-height:31.74px;color:#ffffff;transform:scaleX(0.6285);text-shadow:2px 2px 3px rgba(0,0,0,0.55);">IDENTITATE: EU SUNT CREATURĂ</div>
<div class="t" style="left:481.03px;top:503.55px;font-size:39.71px;line-height:39.71px;color:#ffffff;transform:scaleX(0.6902);text-shadow:2px 2px 3px rgba(0,0,0,0.55);-webkit-text-stroke:0.7px #ffffff;">NU</div>
<div class="t" style="left:150.32px;top:510.91px;font-size:44.93px;line-height:44.93px;color:#ffffff;transform:scaleX(0.6455);text-shadow:2px 2px 3px rgba(0,0,0,0.55);-webkit-text-stroke:0.7px #ffffff;">NU DAU</div>
<div class="t" style="left:165.97px;top:582.35px;font-size:44.06px;line-height:44.06px;color:#ffffff;transform:scaleX(0.6080);text-shadow:2px 2px 3px rgba(0,0,0,0.55);-webkit-text-stroke:0.7px #ffffff;">REȚIN</div>
<div class="t" style="left:593.06px;top:577.92px;font-size:39.28px;line-height:39.28px;color:#ffffff;transform:scaleX(0.5801);text-shadow:2px 2px 3px rgba(0,0,0,0.55);-webkit-text-stroke:0.7px #ffffff;">PIERDERE</div>
<div class="t" style="left:599.85px;top:636.66px;font-size:28.99px;line-height:28.99px;color:#ffffff;transform:scaleX(0.5771);">PERSONALĂ</div>
<div class="t" style="left:925.50px;top:510.72px;font-size:45.51px;line-height:45.51px;color:#ffffff;transform:scaleX(0.6250);-webkit-text-stroke:0.7px #ffffff;">NU PRIMESC</div>
<div class="t" style="left:868.15px;top:582.18px;font-size:44.49px;line-height:44.49px;color:#ffffff;transform:scaleX(0.6136);-webkit-text-stroke:0.7px #ffffff;">PRIMESC PREA PUȚIN</div>
<div class="t" style="left:896.49px;top:651.92px;font-size:45.51px;line-height:45.51px;color:#ffffff;transform:scaleX(0.6018);-webkit-text-stroke:0.7px #ffffff;">MI S-A LUAT CEVA</div>
<div class="t" style="left:386.5px;width:100px;text-align:center;top:102.32px;font-size:39.86px;line-height:39.86px;color:#fff;transform:scaleX(0.62);transform-origin:50% 0;text-shadow:1px 1px 2px rgba(0,0,0,0.4);">T</div>
<div class="t" style="left:433.7px;width:100px;text-align:center;top:144.42px;font-size:39.86px;line-height:39.86px;color:#fff;transform:scaleX(0.62);transform-origin:50% 0;text-shadow:1px 1px 2px rgba(0,0,0,0.4);">S</div>
<div class="t" style="left:497px;width:100px;text-align:center;top:93.12px;font-size:39.86px;line-height:39.86px;color:#fff;transform:scaleX(0.62);transform-origin:50% 0;text-shadow:1px 1px 2px rgba(0,0,0,0.4);">C</div>
<div class="t" style="left:512px;width:100px;text-align:center;top:155.62px;font-size:39.86px;line-height:39.86px;color:#fff;transform:scaleX(0.62);transform-origin:50% 0;text-shadow:1px 1px 2px rgba(0,0,0,0.4);">L</div>
<div class="t" style="left:597px;width:100px;text-align:center;top:86.42px;font-size:39.86px;line-height:39.86px;color:#fff;transform:scaleX(0.62);transform-origin:50% 0;text-shadow:1px 1px 2px rgba(0,0,0,0.4);">A</div>
<div class="t" style="left:602.8px;width:100px;text-align:center;top:164.92px;font-size:39.86px;line-height:39.86px;color:#fff;transform:scaleX(0.62);transform-origin:50% 0;text-shadow:1px 1px 2px rgba(0,0,0,0.4);">A</div>
<div class="t" style="left:724.4px;width:100px;text-align:center;top:92.92px;font-size:39.86px;line-height:39.86px;color:#fff;transform:scaleX(0.62);transform-origin:50% 0;text-shadow:1px 1px 2px rgba(0,0,0,0.4);">S</div>
<div class="t" style="left:703.6px;width:100px;text-align:center;top:149.92px;font-size:39.86px;line-height:39.86px;color:#fff;transform:scaleX(0.62);transform-origin:50% 0;text-shadow:1px 1px 2px rgba(0,0,0,0.4);">J</div>
<div class="t" style="left:767.2px;width:100px;text-align:center;top:150.62px;font-size:39.86px;line-height:39.86px;color:#fff;transform:scaleX(0.62);transform-origin:50% 0;text-shadow:1px 1px 2px rgba(0,0,0,0.4);">F</div>
<div class="t" style="left:818.4px;width:100px;text-align:center;top:102.22px;font-size:39.86px;line-height:39.86px;color:#fff;transform:scaleX(0.62);transform-origin:50% 0;text-shadow:1px 1px 2px rgba(0,0,0,0.4);">F</div>
</body></html>
